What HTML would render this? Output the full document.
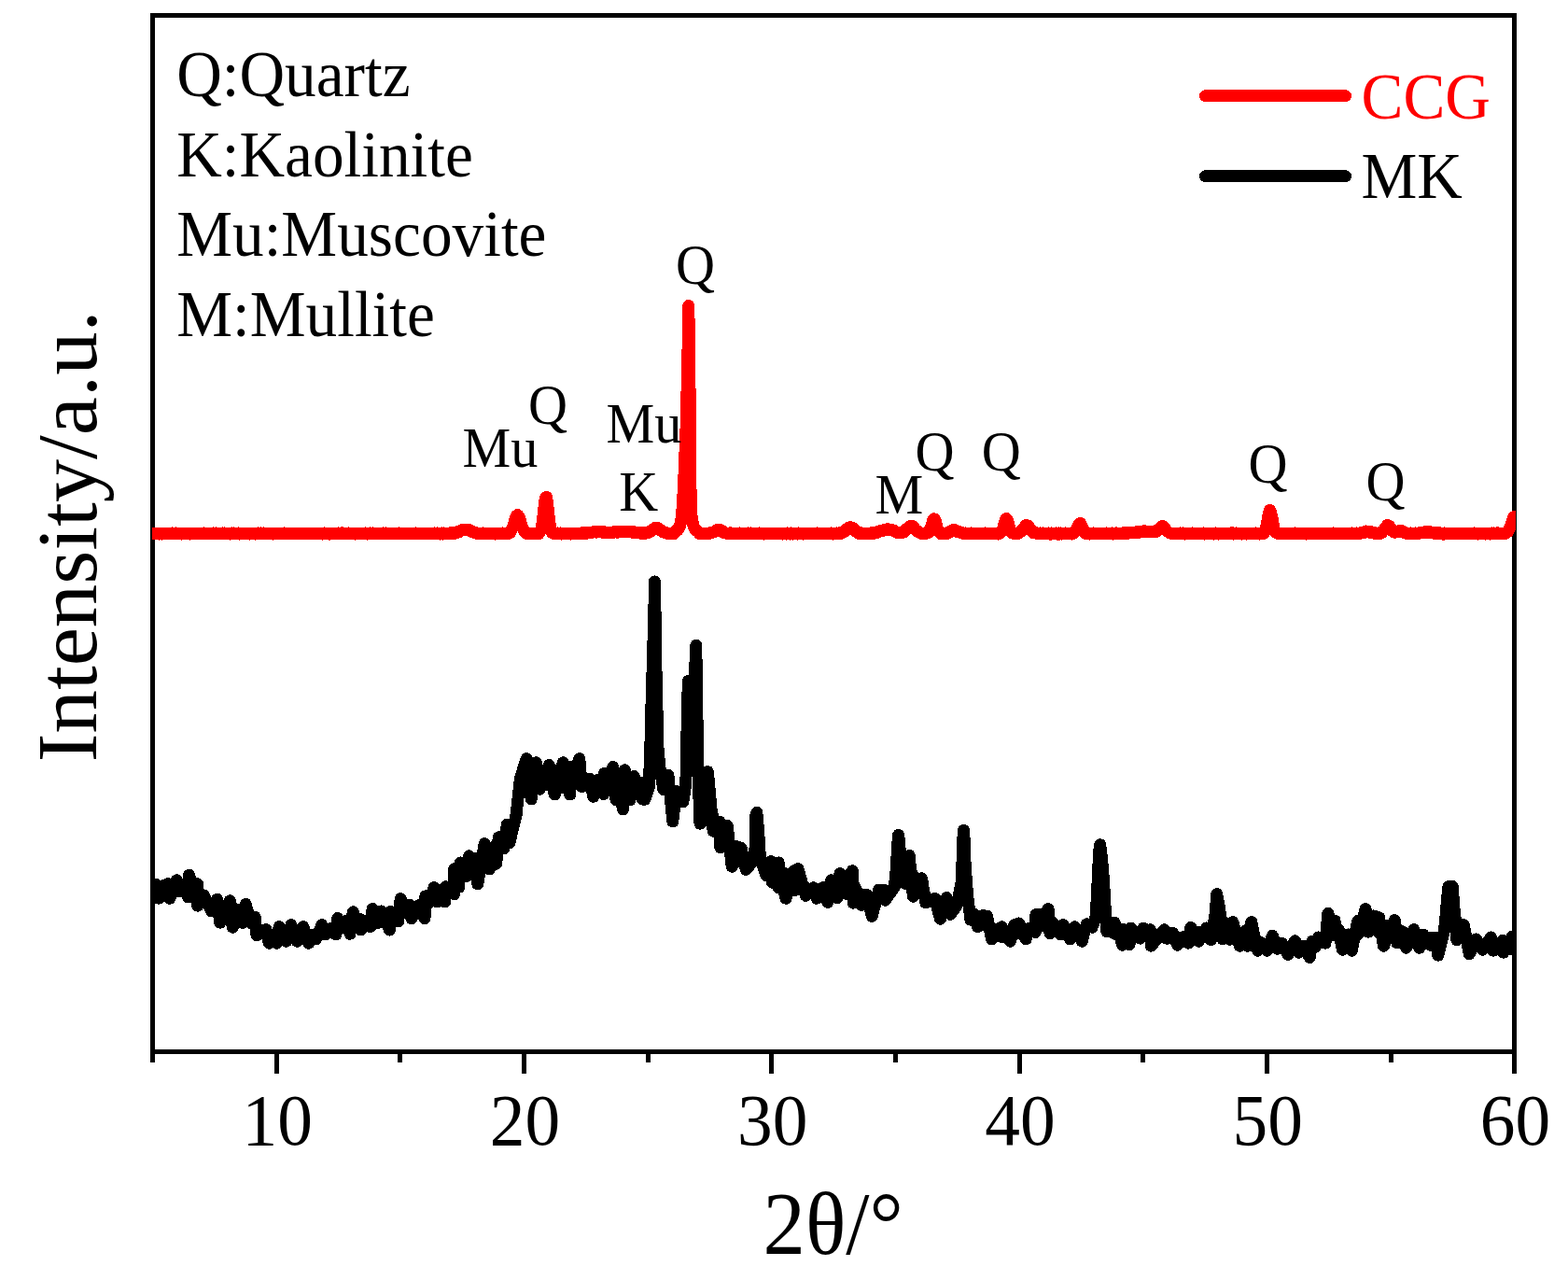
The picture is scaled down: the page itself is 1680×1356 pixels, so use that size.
<!DOCTYPE html>
<html lang="en">
<head>
<meta charset="utf-8">
<title>XRD patterns of CCG and MK</title>
<style>
html,body{margin:0;padding:0;background:#fff;}
body{width:1680px;height:1356px;overflow:hidden;}
svg{display:block;}
text{font-family:"Liberation Serif","Times New Roman",serif;fill:#000;}
.leg{font-size:67.3px;}
.pk{font-size:58.2px;}
.tk{font-size:75.4px;text-anchor:middle;}
.ax{font-size:90.7px;text-anchor:middle;}
.ln{fill:none;stroke-linejoin:round;stroke-linecap:round;}
</style>
</head>
<body>
<svg width="1680" height="1356" viewBox="0 0 1680 1356">
<rect x="0" y="0" width="1680" height="1356" fill="#fff"/>
<g id="frame" fill="none" stroke="#000" stroke-width="5" stroke-linecap="butt">
<rect x="163.5" y="16.5" width="1459.0" height="1110.0"/>
<line x1="163.5" y1="1126.5" x2="163.5" y2="1138.0"/>
<line x1="296.5" y1="1126.5" x2="296.5" y2="1150.0"/>
<line x1="428.5" y1="1126.5" x2="428.5" y2="1138.0"/>
<line x1="561.5" y1="1126.5" x2="561.5" y2="1150.0"/>
<line x1="694.5" y1="1126.5" x2="694.5" y2="1138.0"/>
<line x1="826.5" y1="1126.5" x2="826.5" y2="1150.0"/>
<line x1="959.5" y1="1126.5" x2="959.5" y2="1138.0"/>
<line x1="1092.5" y1="1126.5" x2="1092.5" y2="1150.0"/>
<line x1="1224.5" y1="1126.5" x2="1224.5" y2="1138.0"/>
<line x1="1357.5" y1="1126.5" x2="1357.5" y2="1150.0"/>
<line x1="1490.5" y1="1126.5" x2="1490.5" y2="1138.0"/>
<line x1="1622.5" y1="1126.5" x2="1622.5" y2="1150.0"/>
</g>
<defs><clipPath id="plotclip"><rect x="163" y="14" width="1461" height="1115"/></clipPath></defs>
<g id="curves" clip-path="url(#plotclip)" shape-rendering="crispEdges">
<polygon fill="#000" stroke="#000" stroke-width="1" stroke-linejoin="round" points="163.5,947.3 164.5,948.4 165.5,948.8 166.5,948.8 167.5,949.0 168.5,949.2 169.5,949.4 170.5,949.7 171.5,949.9 172.5,950.1 173.5,950.3 174.5,950.4 175.5,950.0 176.5,949.6 177.5,949.2 178.5,948.9 179.5,948.5 180.5,948.1 181.5,947.6 182.5,947.2 183.5,946.8 184.5,946.3 185.5,945.9 186.5,945.5 187.5,945.0 188.5,944.6 189.5,944.2 190.5,943.8 191.5,943.3 192.5,942.9 193.5,942.5 194.5,942.1 195.5,941.7 196.5,941.3 197.5,940.9 198.5,940.5 199.5,940.0 200.5,939.6 201.5,939.2 202.5,938.8 203.5,939.8 204.5,940.9 205.5,941.9 206.5,942.9 207.5,944.0 208.5,945.0 209.5,946.0 210.5,947.1 211.5,948.1 212.5,949.8 213.5,951.6 214.5,953.5 215.5,955.3 216.5,957.2 217.5,959.0 218.5,960.6 219.5,960.9 220.5,961.2 221.5,961.4 222.5,961.7 223.5,962.0 224.5,962.3 225.5,962.6 226.5,962.9 227.5,963.2 228.5,963.5 229.5,963.8 230.5,964.1 231.5,964.4 232.5,964.7 233.5,964.8 234.5,964.9 235.5,965.0 236.5,965.2 237.5,965.3 238.5,965.4 239.5,965.5 240.5,965.6 241.5,965.7 242.5,965.9 243.5,966.0 244.5,966.1 245.5,966.2 246.5,966.3 247.5,966.6 248.5,966.8 249.5,967.0 250.5,967.2 251.5,967.4 252.5,967.6 253.5,967.9 254.5,968.1 255.5,968.3 256.5,968.5 257.5,968.7 258.5,969.0 259.5,969.2 260.5,969.4 261.5,969.6 262.5,969.8 263.5,970.3 264.5,971.7 265.5,973.0 266.5,974.4 267.5,975.8 268.5,977.2 269.5,978.6 270.5,979.9 271.5,981.3 272.5,982.7 273.5,984.0 274.5,985.2 275.5,986.3 276.5,987.5 277.5,988.6 278.5,989.8 279.5,990.9 280.5,992.0 281.5,993.2 282.5,994.3 283.5,995.5 284.5,996.6 285.5,997.1 286.5,996.9 287.5,996.7 288.5,996.5 289.5,996.2 290.5,996.0 291.5,995.8 292.5,995.6 293.5,995.4 294.5,995.2 295.5,995.0 296.5,994.8 297.5,994.6 298.5,994.3 299.5,994.2 300.5,994.0 301.5,993.8 302.5,993.7 303.5,993.5 304.5,993.4 305.5,993.2 306.5,993.1 307.5,992.9 308.5,992.7 309.5,992.6 310.5,992.4 311.5,992.3 312.5,992.3 313.5,992.4 314.5,992.6 315.5,992.7 316.5,992.9 317.5,993.0 318.5,993.2 319.5,993.4 320.5,993.5 321.5,993.7 322.5,993.8 323.5,994.0 324.5,994.1 325.5,994.6 326.5,995.5 327.5,996.4 328.5,997.3 329.5,998.2 330.5,999.0 331.5,999.9 332.5,1000.8 333.5,1001.7 334.5,1002.6 335.5,1002.5 336.5,1001.4 337.5,1000.3 338.5,999.2 339.5,998.1 340.5,997.1 341.5,996.0 342.5,994.9 343.5,993.8 344.5,992.7 345.5,992.4 346.5,992.9 347.5,993.4 348.5,993.9 349.5,994.4 350.5,994.9 351.5,995.4 352.5,995.9 353.5,996.0 354.5,994.7 355.5,993.3 356.5,992.0 357.5,990.6 358.5,989.3 359.5,988.0 360.5,986.6 361.5,985.3 362.5,985.3 363.5,985.7 364.5,986.0 365.5,986.4 366.5,986.7 367.5,987.1 368.5,987.5 369.5,987.8 370.5,987.4 371.5,986.2 372.5,985.1 373.5,983.9 374.5,982.7 375.5,981.6 376.5,980.4 377.5,979.2 378.5,978.5 379.5,979.4 380.5,980.4 381.5,981.3 382.5,982.3 383.5,983.3 384.5,984.2 385.5,985.2 386.5,986.1 387.5,985.6 388.5,984.7 389.5,983.8 390.5,982.9 391.5,982.0 392.5,981.1 393.5,980.2 394.5,979.2 395.5,978.3 396.5,977.4 397.5,976.5 398.5,975.6 399.5,975.1 400.5,975.4 401.5,975.6 402.5,975.9 403.5,976.2 404.5,976.5 405.5,976.7 406.5,977.0 407.5,977.3 408.5,977.5 409.5,977.6 410.5,977.6 411.5,977.7 412.5,977.7 413.5,977.8 414.5,977.8 415.5,977.9 416.5,977.9 417.5,978.0 418.5,977.7 419.5,976.5 420.5,975.2 421.5,973.9 422.5,972.7 423.5,971.4 424.5,970.2 425.5,968.9 426.5,967.6 427.5,966.4 428.5,965.1 429.5,964.4 430.5,965.1 431.5,965.8 432.5,966.5 433.5,967.2 434.5,967.9 435.5,968.6 436.5,969.3 437.5,969.9 438.5,970.5 439.5,970.6 440.5,970.7 441.5,970.8 442.5,970.8 443.5,970.9 444.5,971.0 445.5,971.1 446.5,971.2 447.5,971.2 448.5,971.0 449.5,969.7 450.5,968.4 451.5,967.0 452.5,965.7 453.5,964.4 454.5,963.0 455.5,961.7 456.5,960.6 457.5,959.6 458.5,958.6 459.5,957.6 460.5,956.7 461.5,955.7 462.5,954.7 463.5,953.7 464.5,952.7 465.5,952.2 466.5,952.1 467.5,952.0 468.5,951.9 469.5,951.9 470.5,951.8 471.5,951.7 472.5,951.7 473.5,951.6 474.5,951.5 475.5,951.4 476.5,951.4 477.5,951.3 478.5,949.2 479.5,947.1 480.5,945.1 481.5,943.0 482.5,940.9 483.5,938.8 484.5,936.8 485.5,934.7 486.5,932.6 487.5,931.4 488.5,930.4 489.5,929.4 490.5,928.3 491.5,927.3 492.5,926.3 493.5,925.3 494.5,924.6 495.5,923.8 496.5,923.0 497.5,922.2 498.5,921.4 499.5,920.6 500.5,919.9 501.5,919.1 502.5,918.3 503.5,918.6 504.5,918.9 505.5,919.2 506.5,919.5 507.5,919.8 508.5,920.1 509.5,920.4 510.5,919.7 511.5,918.0 512.5,916.3 513.5,914.7 514.5,913.0 515.5,911.4 516.5,909.7 517.5,908.0 518.5,906.4 519.5,905.1 520.5,904.6 521.5,904.1 522.5,903.7 523.5,903.2 524.5,902.8 525.5,902.3 526.5,901.8 527.5,901.4 528.5,900.9 529.5,900.5 530.5,900.0 531.5,899.5 532.5,899.1 533.5,898.6 534.5,897.9 535.5,896.4 536.5,894.9 537.5,893.4 538.5,891.9 539.5,890.4 540.5,888.9 541.5,887.4 542.5,885.9 543.5,884.5 544.5,883.5 545.5,882.5 546.5,881.4 547.5,880.4 548.5,879.4 549.5,878.4 550.5,877.4 551.5,876.3 552.5,874.6 553.5,868.8 554.5,859.7 555.5,850.7 556.5,842.0 557.5,833.3 558.5,831.7 559.5,828.7 560.5,825.6 561.5,822.5 562.5,819.4 563.5,816.4 564.5,814.3 565.5,814.7 566.5,815.1 567.5,815.6 568.5,816.0 569.5,816.4 570.5,816.8 571.5,817.2 572.5,817.6 573.5,818.0 574.5,818.4 575.5,818.5 576.5,818.7 577.5,818.9 578.5,819.1 579.5,819.3 580.5,819.5 581.5,819.7 582.5,819.9 583.5,820.1 584.5,820.3 585.5,820.5 586.5,820.7 587.5,820.8 588.5,821.0 589.5,820.8 590.5,820.6 591.5,820.4 592.5,820.2 593.5,820.1 594.5,819.9 595.5,819.7 596.5,819.5 597.5,819.3 598.5,819.2 599.5,819.0 600.5,818.8 601.5,818.6 602.5,818.4 603.5,818.4 604.5,819.0 605.5,819.5 606.5,820.1 607.5,820.6 608.5,821.2 609.5,821.8 610.5,822.3 611.5,822.9 612.5,822.2 613.5,821.3 614.5,820.3 615.5,819.3 616.5,818.4 617.5,817.4 618.5,816.4 619.5,815.5 620.5,814.5 621.5,815.6 622.5,817.5 623.5,819.5 624.5,821.4 625.5,823.4 626.5,825.3 627.5,827.3 628.5,829.2 629.5,831.2 630.5,833.2 631.5,835.1 632.5,835.7 633.5,835.9 634.5,836.1 635.5,836.3 636.5,836.5 637.5,836.7 638.5,836.9 639.5,837.1 640.5,836.7 641.5,835.8 642.5,834.8 643.5,833.8 644.5,832.9 645.5,831.9 646.5,831.0 647.5,830.0 648.5,829.2 649.5,828.5 650.5,827.7 651.5,827.0 652.5,826.2 653.5,825.4 654.5,824.7 655.5,823.9 656.5,823.2 657.5,823.2 658.5,823.5 659.5,823.7 660.5,824.0 661.5,824.3 662.5,824.5 663.5,824.8 664.5,825.1 665.5,825.3 666.5,825.6 667.5,825.9 668.5,826.1 669.5,826.5 670.5,827.2 671.5,827.8 672.5,828.5 673.5,829.2 674.5,829.9 675.5,830.5 676.5,831.2 677.5,831.9 678.5,832.5 679.5,833.3 680.5,834.2 681.5,835.1 682.5,836.1 683.5,837.0 684.5,837.9 685.5,838.9 686.5,839.8 687.5,840.5 688.5,841.0 689.5,841.6 690.5,842.2 691.5,842.7 692.5,843.3 693.5,843.9 694.5,844.3 695.5,837.9 696.5,810.2 697.5,775.0 698.5,737.9 699.5,703.8 700.5,669.8 701.5,623.0 702.5,688.5 703.5,738.8 704.5,784.4 705.5,806.8 706.5,817.9 707.5,823.4 708.5,824.4 709.5,825.4 710.5,826.4 711.5,827.5 712.5,828.5 713.5,829.5 714.5,830.5 715.5,831.5 716.5,833.1 717.5,835.0 718.5,837.0 719.5,838.9 720.5,840.9 721.5,842.8 722.5,844.8 723.5,846.7 724.5,848.7 725.5,847.9 726.5,847.1 727.5,846.3 728.5,845.5 729.5,844.7 730.5,843.9 731.5,843.1 732.5,842.3 733.5,841.5 734.5,840.4 735.5,804.8 736.5,762.9 737.5,733.1 738.5,750.7 739.5,768.2 740.5,771.5 741.5,760.4 742.5,749.3 743.5,738.2 744.5,721.2 745.5,698.1 746.5,739.0 747.5,806.5 748.5,823.1 749.5,823.6 750.5,824.1 751.5,824.6 752.5,825.1 753.5,825.6 754.5,826.1 755.5,826.6 756.5,827.1 757.5,827.6 758.5,828.5 759.5,832.6 760.5,836.6 761.5,840.7 762.5,844.8 763.5,848.8 764.5,852.9 765.5,857.0 766.5,861.0 767.5,865.1 768.5,869.2 769.5,873.3 770.5,877.3 771.5,881.4 772.5,882.6 773.5,883.1 774.5,883.6 775.5,884.1 776.5,884.6 777.5,885.1 778.5,885.6 779.5,886.7 780.5,889.1 781.5,891.6 782.5,894.0 783.5,896.4 784.5,898.8 785.5,901.2 786.5,903.6 787.5,906.1 788.5,908.1 789.5,908.4 790.5,908.7 791.5,909.1 792.5,909.4 793.5,909.8 794.5,910.4 795.5,911.7 796.5,912.9 797.5,914.2 798.5,915.5 799.5,916.8 800.5,918.0 801.5,919.3 802.5,920.6 803.5,921.9 804.5,923.1 805.5,923.3 806.5,920.2 807.5,915.7 808.5,911.2 809.5,906.7 810.5,871.2 811.5,877.8 812.5,889.4 813.5,904.2 814.5,917.1 815.5,918.8 816.5,919.3 817.5,919.9 818.5,920.4 819.5,920.9 820.5,921.4 821.5,922.0 822.5,922.5 823.5,923.0 824.5,923.5 825.5,924.0 826.5,924.3 827.5,924.5 828.5,924.6 829.5,924.8 830.5,924.9 831.5,925.1 832.5,925.2 833.5,925.4 834.5,925.7 835.5,926.2 836.5,926.7 837.5,927.2 838.5,927.8 839.5,928.3 840.5,928.8 841.5,929.3 842.5,929.9 843.5,930.4 844.5,930.9 845.5,931.4 846.5,931.9 847.5,932.5 848.5,933.0 849.5,933.5 850.5,934.0 851.5,933.9 852.5,933.4 853.5,932.9 854.5,932.4 855.5,932.8 856.5,934.0 857.5,935.2 858.5,936.4 859.5,937.6 860.5,938.8 861.5,940.0 862.5,941.2 863.5,942.4 864.5,943.6 865.5,944.8 866.5,946.0 867.5,947.2 868.5,948.4 869.5,949.6 870.5,950.8 871.5,952.0 872.5,952.2 873.5,952.2 874.5,952.2 875.5,952.2 876.5,952.2 877.5,952.2 878.5,952.2 879.5,952.2 880.5,952.2 881.5,952.2 882.5,951.5 883.5,950.6 884.5,949.8 885.5,948.9 886.5,948.0 887.5,947.2 888.5,946.3 889.5,945.4 890.5,944.6 891.5,943.8 892.5,943.0 893.5,942.2 894.5,941.4 895.5,940.7 896.5,939.9 897.5,939.1 898.5,938.4 899.5,937.6 900.5,937.1 901.5,936.9 902.5,936.6 903.5,936.4 904.5,936.2 905.5,936.0 906.5,935.7 907.5,935.5 908.5,935.3 909.5,935.1 910.5,934.8 911.5,934.6 912.5,934.4 913.5,934.5 914.5,936.2 915.5,937.9 916.5,939.6 917.5,941.3 918.5,943.0 919.5,944.7 920.5,946.4 921.5,948.1 922.5,949.8 923.5,951.5 924.5,953.2 925.5,954.9 926.5,956.6 927.5,958.3 928.5,959.6 929.5,959.3 930.5,958.9 931.5,958.5 932.5,958.1 933.5,957.8 934.5,957.4 935.5,957.0 936.5,956.6 937.5,956.3 938.5,955.9 939.5,955.5 940.5,955.1 941.5,954.8 942.5,954.7 943.5,954.7 944.5,954.7 945.5,954.7 946.5,954.7 947.5,954.7 948.5,954.4 949.5,954.1 950.5,953.8 951.5,953.5 952.5,953.2 953.5,952.9 954.5,952.6 955.5,952.3 956.5,951.6 957.5,950.7 958.5,948.0 959.5,938.0 960.5,926.4 961.5,908.3 962.5,894.5 963.5,900.0 964.5,913.8 965.5,915.2 966.5,915.5 967.5,915.8 968.5,916.2 969.5,916.5 970.5,916.8 971.5,917.1 972.5,917.5 973.5,917.8 974.5,918.5 975.5,920.4 976.5,922.2 977.5,924.0 978.5,925.8 979.5,927.6 980.5,929.5 981.5,931.3 982.5,933.1 983.5,934.9 984.5,936.7 985.5,938.6 986.5,940.4 987.5,942.2 988.5,943.7 989.5,945.2 990.5,946.8 991.5,948.3 992.5,949.8 993.5,951.3 994.5,952.8 995.5,954.4 996.5,955.9 997.5,957.4 998.5,958.9 999.5,960.5 1000.5,962.0 1001.5,963.5 1002.5,963.7 1003.5,963.7 1004.5,963.6 1005.5,963.6 1006.5,963.5 1007.5,963.4 1008.5,963.4 1009.5,963.3 1010.5,963.2 1011.5,963.2 1012.5,963.1 1013.5,963.0 1014.5,963.2 1015.5,964.0 1016.5,964.8 1017.5,965.6 1018.5,966.4 1019.5,967.2 1020.5,968.0 1021.5,968.7 1022.5,969.5 1023.5,970.3 1024.5,970.2 1025.5,967.6 1026.5,962.8 1027.5,958.0 1028.5,953.2 1029.5,948.4 1030.5,936.9 1031.5,910.0 1032.5,889.5 1033.5,910.0 1034.5,930.7 1035.5,945.4 1036.5,956.6 1037.5,965.8 1038.5,967.7 1039.5,968.7 1040.5,969.6 1041.5,970.6 1042.5,971.6 1043.5,972.6 1044.5,973.6 1045.5,974.5 1046.5,975.5 1047.5,976.5 1048.5,977.5 1049.5,978.5 1050.5,979.5 1051.5,980.4 1052.5,981.4 1053.5,982.2 1054.5,982.3 1055.5,982.5 1056.5,982.6 1057.5,982.7 1058.5,983.4 1059.5,984.2 1060.5,984.9 1061.5,985.6 1062.5,986.4 1063.5,987.1 1064.5,987.8 1065.5,988.6 1066.5,989.3 1067.5,990.0 1068.5,990.8 1069.5,991.5 1070.5,992.2 1071.5,993.0 1072.5,993.7 1073.5,994.3 1074.5,994.1 1075.5,994.0 1076.5,993.8 1077.5,993.6 1078.5,993.5 1079.5,993.3 1080.5,993.2 1081.5,993.0 1082.5,992.9 1083.5,992.7 1084.5,992.5 1085.5,992.4 1086.5,992.2 1087.5,991.9 1088.5,991.6 1089.5,991.2 1090.5,990.9 1091.5,990.6 1092.5,991.0 1093.5,991.5 1094.5,992.1 1095.5,992.7 1096.5,993.3 1097.5,993.9 1098.5,994.4 1099.5,995.0 1100.5,995.6 1101.5,996.2 1102.5,994.8 1103.5,993.0 1104.5,991.1 1105.5,989.3 1106.5,987.5 1107.5,985.6 1108.5,983.8 1109.5,981.9 1110.5,981.0 1111.5,980.9 1112.5,980.8 1113.5,980.6 1114.5,980.5 1115.5,980.2 1116.5,979.5 1117.5,978.8 1118.5,978.1 1119.5,977.4 1120.5,976.7 1121.5,976.0 1122.5,975.3 1123.5,975.5 1124.5,976.6 1125.5,977.7 1126.5,978.7 1127.5,979.8 1128.5,980.8 1129.5,981.9 1130.5,983.0 1131.5,984.0 1132.5,985.1 1133.5,986.1 1134.5,987.2 1135.5,988.3 1136.5,989.3 1137.5,990.4 1138.5,991.5 1139.5,992.3 1140.5,992.4 1141.5,992.6 1142.5,992.8 1143.5,992.9 1144.5,993.1 1145.5,993.3 1146.5,993.4 1147.5,993.6 1148.5,993.8 1149.5,993.9 1150.5,994.1 1151.5,994.3 1152.5,994.1 1153.5,993.9 1154.5,993.6 1155.5,993.4 1156.5,993.1 1157.5,992.9 1158.5,992.7 1159.5,992.4 1160.5,992.2 1161.5,991.9 1162.5,991.7 1163.5,991.5 1164.5,991.1 1165.5,990.2 1166.5,989.4 1167.5,988.6 1168.5,987.8 1169.5,987.0 1170.5,986.2 1171.5,985.4 1172.5,984.6 1173.5,982.9 1174.5,975.9 1175.5,956.7 1176.5,936.0 1177.5,915.7 1178.5,906.2 1179.5,911.0 1180.5,920.0 1181.5,930.7 1182.5,944.3 1183.5,960.8 1184.5,975.2 1185.5,976.7 1186.5,978.2 1187.5,979.7 1188.5,981.2 1189.5,982.7 1190.5,984.2 1191.5,985.7 1192.5,987.2 1193.5,988.7 1194.5,989.9 1195.5,990.7 1196.5,991.4 1197.5,992.2 1198.5,992.9 1199.5,993.7 1200.5,994.4 1201.5,995.2 1202.5,995.9 1203.5,996.7 1204.5,997.1 1205.5,996.9 1206.5,996.7 1207.5,996.5 1208.5,996.2 1209.5,996.0 1210.5,995.8 1211.5,995.5 1212.5,995.5 1213.5,995.5 1214.5,995.5 1215.5,995.5 1216.5,995.5 1217.5,995.5 1218.5,995.5 1219.5,995.5 1220.5,995.5 1221.5,995.5 1222.5,995.5 1223.5,995.5 1224.5,995.5 1225.5,995.6 1226.5,995.8 1227.5,996.1 1228.5,996.3 1229.5,996.5 1230.5,996.7 1231.5,997.0 1232.5,997.2 1233.5,997.2 1234.5,997.2 1235.5,997.2 1236.5,997.2 1237.5,997.2 1238.5,997.2 1239.5,997.2 1240.5,997.2 1241.5,997.2 1242.5,997.2 1243.5,997.2 1244.5,997.2 1245.5,997.2 1246.5,997.2 1247.5,997.2 1248.5,997.6 1249.5,998.0 1250.5,998.4 1251.5,998.9 1252.5,999.3 1253.5,999.7 1254.5,1000.1 1255.5,1000.5 1256.5,1000.9 1257.5,1000.7 1258.5,1000.4 1259.5,1000.1 1260.5,999.8 1261.5,999.5 1262.5,999.2 1263.5,998.9 1264.5,998.5 1265.5,998.2 1266.5,997.9 1267.5,997.6 1268.5,997.3 1269.5,997.0 1270.5,996.7 1271.5,996.4 1272.5,996.0 1273.5,995.7 1274.5,995.4 1275.5,995.1 1276.5,995.4 1277.5,995.9 1278.5,996.4 1279.5,996.9 1280.5,997.4 1281.5,997.9 1282.5,998.4 1283.5,998.9 1284.5,999.4 1285.5,999.4 1286.5,998.9 1287.5,998.3 1288.5,997.7 1289.5,997.2 1290.5,996.6 1291.5,996.1 1292.5,995.5 1293.5,994.0 1294.5,992.6 1295.5,991.1 1296.5,989.6 1297.5,988.1 1298.5,986.7 1299.5,985.2 1300.5,983.7 1301.5,981.8 1302.5,974.9 1303.5,961.8 1304.5,963.4 1305.5,968.6 1306.5,972.9 1307.5,975.6 1308.5,976.6 1309.5,977.7 1310.5,978.7 1311.5,979.7 1312.5,980.7 1313.5,981.7 1314.5,982.8 1315.5,983.8 1316.5,984.8 1317.5,985.8 1318.5,986.9 1319.5,987.9 1320.5,988.9 1321.5,989.7 1322.5,990.3 1323.5,990.9 1324.5,991.6 1325.5,992.2 1326.5,992.9 1327.5,993.5 1328.5,994.2 1329.5,994.8 1330.5,995.5 1331.5,996.1 1332.5,996.8 1333.5,997.4 1334.5,996.9 1335.5,997.0 1336.5,995.5 1337.5,994.1 1338.5,992.6 1339.5,991.1 1340.5,989.6 1341.5,992.6 1342.5,997.6 1343.5,1000.6 1344.5,1002.9 1345.5,1004.1 1346.5,1005.2 1347.5,1006.4 1348.5,1007.6 1349.5,1008.7 1350.5,1009.9 1351.5,1011.1 1352.5,1010.8 1353.5,1010.1 1354.5,1009.5 1355.5,1008.8 1356.5,1008.2 1357.5,1007.5 1358.5,1006.9 1359.5,1006.3 1360.5,1005.6 1361.5,1005.0 1362.5,1004.3 1363.5,1004.0 1364.5,1004.7 1365.5,1005.5 1366.5,1006.3 1367.5,1007.1 1368.5,1007.9 1369.5,1008.7 1370.5,1009.5 1371.5,1010.3 1372.5,1011.1 1373.5,1011.7 1374.5,1011.5 1375.5,1011.3 1376.5,1011.1 1377.5,1011.0 1378.5,1010.8 1379.5,1010.6 1380.5,1010.4 1381.5,1010.3 1382.5,1010.1 1383.5,1009.9 1384.5,1009.7 1385.5,1009.6 1386.5,1009.4 1387.5,1009.2 1388.5,1009.8 1389.5,1010.4 1390.5,1011.0 1391.5,1011.6 1392.5,1012.2 1393.5,1012.8 1394.5,1013.4 1395.5,1014.0 1396.5,1014.6 1397.5,1014.3 1398.5,1013.7 1399.5,1013.2 1400.5,1012.6 1401.5,1012.1 1402.5,1011.5 1403.5,1011.0 1404.5,1010.4 1405.5,1009.9 1406.5,1009.3 1407.5,1008.6 1408.5,1008.0 1409.5,1007.4 1410.5,1006.8 1411.5,1006.1 1412.5,1005.5 1413.5,1003.0 1414.5,1000.5 1415.5,998.1 1416.5,995.6 1417.5,993.1 1418.5,990.6 1419.5,988.2 1420.5,985.7 1421.5,983.2 1422.5,980.7 1423.5,980.7 1424.5,981.8 1425.5,982.8 1426.5,983.9 1427.5,984.9 1428.5,985.9 1429.5,987.0 1430.5,988.0 1431.5,989.1 1432.5,990.1 1433.5,991.2 1434.5,992.3 1435.5,993.3 1436.5,994.4 1437.5,995.4 1438.5,996.5 1439.5,997.5 1440.5,998.6 1441.5,999.6 1442.5,1000.7 1443.5,1001.8 1444.5,1002.1 1445.5,1000.7 1446.5,999.3 1447.5,997.9 1448.5,996.6 1449.5,995.2 1450.5,993.8 1451.5,992.4 1452.5,991.0 1453.5,989.7 1454.5,988.3 1455.5,986.7 1456.5,985.2 1457.5,983.6 1458.5,982.0 1459.5,980.5 1460.5,978.9 1461.5,977.3 1462.5,975.8 1463.5,975.4 1464.5,976.3 1465.5,977.2 1466.5,978.0 1467.5,978.9 1468.5,979.7 1469.5,980.6 1470.5,981.5 1471.5,982.3 1472.5,982.7 1473.5,983.0 1474.5,983.3 1475.5,983.6 1476.5,983.9 1477.5,984.2 1478.5,984.4 1479.5,984.6 1480.5,984.7 1481.5,984.9 1482.5,985.1 1483.5,985.3 1484.5,985.5 1485.5,985.6 1486.5,985.8 1487.5,986.0 1488.5,986.2 1489.5,986.4 1490.5,986.5 1491.5,986.7 1492.5,986.9 1493.5,987.1 1494.5,987.3 1495.5,987.8 1496.5,988.3 1497.5,988.8 1498.5,989.3 1499.5,989.7 1500.5,990.2 1501.5,990.7 1502.5,991.2 1503.5,991.7 1504.5,992.2 1505.5,992.6 1506.5,993.1 1507.5,993.6 1508.5,994.1 1509.5,994.6 1510.5,995.0 1511.5,995.5 1512.5,996.0 1513.5,996.5 1514.5,997.0 1515.5,997.5 1516.5,998.0 1517.5,998.5 1518.5,999.1 1519.5,999.6 1520.5,1000.1 1521.5,1000.6 1522.5,1001.2 1523.5,1001.7 1524.5,1002.2 1525.5,1002.7 1526.5,1003.1 1527.5,1003.6 1528.5,1004.0 1529.5,1004.4 1530.5,1004.8 1531.5,1005.2 1532.5,1005.7 1533.5,1006.0 1534.5,1005.9 1535.5,1005.8 1536.5,1005.7 1537.5,1005.6 1538.5,1005.4 1539.5,1004.9 1540.5,1004.5 1541.5,1004.0 1542.5,1003.5 1543.5,1003.0 1544.5,1002.5 1545.5,1002.1 1546.5,1000.4 1547.5,995.0 1548.5,987.6 1549.5,975.4 1550.5,963.3 1551.5,954.1 1552.5,949.5 1553.5,949.5 1554.5,949.5 1555.5,949.5 1556.5,952.5 1557.5,967.3 1558.5,977.9 1559.5,986.7 1560.5,988.7 1561.5,989.1 1562.5,989.6 1563.5,990.0 1564.5,990.5 1565.5,990.9 1566.5,991.4 1567.5,991.8 1568.5,992.4 1569.5,993.6 1570.5,994.7 1571.5,995.9 1572.5,997.0 1573.5,998.1 1574.5,999.3 1575.5,1000.4 1576.5,1001.6 1577.5,1002.7 1578.5,1003.8 1579.5,1005.0 1580.5,1006.1 1581.5,1007.3 1582.5,1007.4 1583.5,1007.3 1584.5,1007.1 1585.5,1007.0 1586.5,1006.9 1587.5,1006.8 1588.5,1006.6 1589.5,1006.5 1590.5,1006.4 1591.5,1006.3 1592.5,1006.1 1593.5,1006.0 1594.5,1005.9 1595.5,1005.8 1596.5,1005.6 1597.5,1005.5 1598.5,1005.8 1599.5,1006.0 1600.5,1006.3 1601.5,1006.6 1602.5,1006.8 1603.5,1007.1 1604.5,1007.3 1605.5,1007.6 1606.5,1007.9 1607.5,1008.1 1608.5,1008.4 1609.5,1008.7 1610.5,1008.6 1611.5,1008.2 1612.5,1007.8 1613.5,1007.4 1614.5,1007.0 1615.5,1006.5 1616.5,1006.1 1617.5,1005.7 1618.5,1005.3 1619.5,1004.9 1620.5,1004.7 1621.5,1004.7 1622.5,1003.2 1622.5,1003.2 1621.5,1004.9 1620.5,1008.2 1619.5,1011.4 1618.5,1014.7 1617.5,1015.7 1616.5,1016.1 1615.5,1016.6 1614.5,1017.0 1613.5,1017.5 1612.5,1017.9 1611.5,1018.4 1610.5,1018.6 1609.5,1018.5 1608.5,1018.3 1607.5,1018.1 1606.5,1017.9 1605.5,1017.7 1604.5,1017.5 1603.5,1017.3 1602.5,1017.2 1601.5,1017.0 1600.5,1016.8 1599.5,1016.7 1598.5,1016.6 1597.5,1016.5 1596.5,1016.4 1595.5,1016.3 1594.5,1016.2 1593.5,1016.1 1592.5,1016.1 1591.5,1016.0 1590.5,1015.9 1589.5,1015.8 1588.5,1015.7 1587.5,1016.0 1586.5,1016.3 1585.5,1016.6 1584.5,1016.9 1583.5,1017.3 1582.5,1017.6 1581.5,1017.9 1580.5,1018.2 1579.5,1018.6 1578.5,1018.9 1577.5,1019.2 1576.5,1019.5 1575.5,1019.9 1574.5,1020.2 1573.5,1019.5 1572.5,1018.4 1571.5,1017.3 1570.5,1016.2 1569.5,1015.0 1568.5,1013.9 1567.5,1012.8 1566.5,1011.7 1565.5,1010.6 1564.5,1009.4 1563.5,1008.3 1562.5,1007.2 1561.5,1006.1 1560.5,1000.7 1559.5,986.7 1558.5,977.9 1557.5,967.3 1556.5,952.5 1555.5,949.5 1554.5,949.5 1553.5,949.5 1552.5,949.5 1551.5,954.1 1550.5,963.3 1549.5,975.4 1548.5,987.6 1547.5,995.0 1546.5,1000.4 1545.5,1003.2 1544.5,1007.2 1543.5,1011.1 1542.5,1015.0 1541.5,1018.9 1540.5,1021.6 1539.5,1021.2 1538.5,1020.8 1537.5,1020.4 1536.5,1020.0 1535.5,1019.6 1534.5,1019.2 1533.5,1018.8 1532.5,1018.4 1531.5,1018.0 1530.5,1017.6 1529.5,1017.2 1528.5,1016.8 1527.5,1016.4 1526.5,1016.0 1525.5,1015.6 1524.5,1015.2 1523.5,1014.8 1522.5,1014.4 1521.5,1014.0 1520.5,1013.7 1519.5,1013.7 1518.5,1013.7 1517.5,1013.7 1516.5,1013.7 1515.5,1013.7 1514.5,1013.7 1513.5,1013.7 1512.5,1013.7 1511.5,1013.7 1510.5,1013.7 1509.5,1013.7 1508.5,1013.7 1507.5,1013.7 1506.5,1013.6 1505.5,1013.1 1504.5,1012.5 1503.5,1012.0 1502.5,1011.4 1501.5,1010.9 1500.5,1010.4 1499.5,1009.8 1498.5,1009.3 1497.5,1008.7 1496.5,1008.3 1495.5,1008.6 1494.5,1008.8 1493.5,1009.1 1492.5,1009.3 1491.5,1009.5 1490.5,1009.8 1489.5,1010.0 1488.5,1010.3 1487.5,1010.5 1486.5,1010.7 1485.5,1011.0 1484.5,1011.2 1483.5,1011.5 1482.5,1011.7 1481.5,1010.8 1480.5,1009.9 1479.5,1009.0 1478.5,1008.1 1477.5,1007.2 1476.5,1006.3 1475.5,1005.4 1474.5,1004.5 1473.5,1003.6 1472.5,1002.7 1471.5,1001.8 1470.5,1000.9 1469.5,1000.0 1468.5,999.1 1467.5,998.2 1466.5,997.3 1465.5,997.0 1464.5,998.2 1463.5,999.3 1462.5,1000.5 1461.5,1001.6 1460.5,1002.8 1459.5,1003.9 1458.5,1005.0 1457.5,1006.2 1456.5,1007.3 1455.5,1008.5 1454.5,1009.6 1453.5,1010.8 1452.5,1011.9 1451.5,1013.0 1450.5,1014.2 1449.5,1015.3 1448.5,1016.5 1447.5,1016.6 1446.5,1016.5 1445.5,1016.4 1444.5,1016.3 1443.5,1016.2 1442.5,1016.1 1441.5,1016.0 1440.5,1015.9 1439.5,1015.8 1438.5,1015.7 1437.5,1014.2 1436.5,1012.4 1435.5,1010.5 1434.5,1008.6 1433.5,1006.8 1432.5,1004.9 1431.5,1003.1 1430.5,1001.2 1429.5,1000.7 1428.5,1001.6 1427.5,1002.4 1426.5,1003.2 1425.5,1004.1 1424.5,1004.9 1423.5,1005.8 1422.5,1006.6 1421.5,1007.4 1420.5,1008.3 1419.5,1009.2 1418.5,1010.1 1417.5,1011.0 1416.5,1011.9 1415.5,1012.8 1414.5,1013.7 1413.5,1014.7 1412.5,1015.6 1411.5,1016.5 1410.5,1017.4 1409.5,1018.3 1408.5,1019.2 1407.5,1020.2 1406.5,1021.1 1405.5,1022.0 1404.5,1022.9 1403.5,1023.8 1402.5,1023.6 1401.5,1023.2 1400.5,1022.7 1399.5,1022.3 1398.5,1021.8 1397.5,1021.4 1396.5,1020.9 1395.5,1020.4 1394.5,1020.0 1393.5,1019.5 1392.5,1019.1 1391.5,1018.7 1390.5,1018.9 1389.5,1019.1 1388.5,1019.2 1387.5,1019.4 1386.5,1019.6 1385.5,1019.8 1384.5,1019.9 1383.5,1020.1 1382.5,1020.3 1381.5,1020.4 1380.5,1020.6 1379.5,1020.6 1378.5,1020.4 1377.5,1020.3 1376.5,1020.1 1375.5,1019.9 1374.5,1019.7 1373.5,1019.5 1372.5,1019.4 1371.5,1019.2 1370.5,1019.0 1369.5,1018.8 1368.5,1018.7 1367.5,1018.5 1366.5,1018.3 1365.5,1018.1 1364.5,1017.9 1363.5,1017.8 1362.5,1017.6 1361.5,1017.4 1360.5,1017.2 1359.5,1017.1 1358.5,1016.9 1357.5,1016.7 1356.5,1016.7 1355.5,1016.7 1354.5,1016.7 1353.5,1016.7 1352.5,1016.7 1351.5,1016.7 1350.5,1016.7 1349.5,1016.7 1348.5,1016.7 1347.5,1016.7 1346.5,1012.4 1345.5,1008.0 1344.5,1003.7 1343.5,1000.6 1342.5,1000.1 1341.5,1002.1 1340.5,1004.1 1339.5,1006.1 1338.5,1008.1 1337.5,1010.1 1336.5,1010.0 1335.5,1001.8 1334.5,996.9 1333.5,998.3 1332.5,1000.9 1331.5,1003.5 1330.5,1006.0 1329.5,1008.6 1328.5,1011.2 1327.5,1011.2 1326.5,1010.6 1325.5,1009.9 1324.5,1009.3 1323.5,1008.6 1322.5,1008.0 1321.5,1007.4 1320.5,1006.7 1319.5,1006.1 1318.5,1005.4 1317.5,1004.8 1316.5,1004.8 1315.5,1004.7 1314.5,1004.7 1313.5,1004.6 1312.5,1004.6 1311.5,1004.6 1310.5,1004.5 1309.5,999.5 1308.5,989.6 1307.5,979.7 1306.5,972.9 1305.5,973.5 1304.5,974.9 1303.5,976.4 1302.5,977.8 1301.5,981.8 1300.5,987.3 1299.5,993.2 1298.5,999.1 1297.5,1005.0 1296.5,1005.1 1295.5,1005.3 1294.5,1005.4 1293.5,1005.5 1292.5,1005.6 1291.5,1005.8 1290.5,1005.9 1289.5,1006.0 1288.5,1006.2 1287.5,1006.3 1286.5,1006.4 1285.5,1006.5 1284.5,1006.7 1283.5,1006.8 1282.5,1007.0 1281.5,1007.2 1280.5,1007.4 1279.5,1007.6 1278.5,1007.7 1277.5,1007.9 1276.5,1008.1 1275.5,1008.3 1274.5,1008.5 1273.5,1008.7 1272.5,1008.8 1271.5,1009.0 1270.5,1009.2 1269.5,1009.4 1268.5,1009.5 1267.5,1009.7 1266.5,1009.9 1265.5,1010.0 1264.5,1010.2 1263.5,1010.4 1262.5,1010.6 1261.5,1010.6 1260.5,1010.0 1259.5,1009.4 1258.5,1008.8 1257.5,1008.2 1256.5,1007.6 1255.5,1007.0 1254.5,1006.4 1253.5,1005.8 1252.5,1005.2 1251.5,1004.6 1250.5,1004.0 1249.5,1003.9 1248.5,1004.4 1247.5,1004.9 1246.5,1005.4 1245.5,1005.9 1244.5,1006.3 1243.5,1006.8 1242.5,1007.3 1241.5,1007.8 1240.5,1008.3 1239.5,1008.7 1238.5,1009.2 1237.5,1009.7 1236.5,1010.2 1235.5,1010.6 1234.5,1011.1 1233.5,1011.6 1232.5,1011.1 1231.5,1010.5 1230.5,1009.8 1229.5,1009.1 1228.5,1008.4 1227.5,1007.7 1226.5,1007.0 1225.5,1006.3 1224.5,1005.6 1223.5,1004.9 1222.5,1004.3 1221.5,1003.8 1220.5,1004.4 1219.5,1004.9 1218.5,1005.5 1217.5,1006.1 1216.5,1006.6 1215.5,1007.2 1214.5,1007.8 1213.5,1008.3 1212.5,1008.9 1211.5,1009.5 1210.5,1010.0 1209.5,1010.3 1208.5,1010.4 1207.5,1010.4 1206.5,1010.5 1205.5,1010.5 1204.5,1010.6 1203.5,1010.6 1202.5,1010.7 1201.5,1009.3 1200.5,1007.8 1199.5,1006.4 1198.5,1004.9 1197.5,1003.5 1196.5,1002.0 1195.5,1000.6 1194.5,999.1 1193.5,998.5 1192.5,998.2 1191.5,997.9 1190.5,997.6 1189.5,997.3 1188.5,997.0 1187.5,996.7 1186.5,996.4 1185.5,991.6 1184.5,976.4 1183.5,960.8 1182.5,944.3 1181.5,930.7 1180.5,920.0 1179.5,911.0 1178.5,906.2 1177.5,915.7 1176.5,936.0 1175.5,956.7 1174.5,975.9 1173.5,982.9 1172.5,984.9 1171.5,987.6 1170.5,990.3 1169.5,992.4 1168.5,993.8 1167.5,995.2 1166.5,996.6 1165.5,998.0 1164.5,999.3 1163.5,1000.7 1162.5,1002.1 1161.5,1003.5 1160.5,1004.9 1159.5,1006.3 1158.5,1006.6 1157.5,1006.4 1156.5,1006.2 1155.5,1006.0 1154.5,1005.9 1153.5,1005.7 1152.5,1005.5 1151.5,1005.3 1150.5,1005.2 1149.5,1005.0 1148.5,1004.8 1147.5,1004.6 1146.5,1004.4 1145.5,1003.9 1144.5,1003.4 1143.5,1002.9 1142.5,1002.4 1141.5,1001.9 1140.5,1001.4 1139.5,1000.9 1138.5,1000.4 1137.5,999.9 1136.5,999.5 1135.5,999.4 1134.5,999.3 1133.5,999.2 1132.5,999.1 1131.5,999.0 1130.5,998.9 1129.5,998.8 1128.5,998.7 1127.5,998.6 1126.5,998.5 1125.5,998.4 1124.5,998.3 1123.5,998.2 1122.5,998.1 1121.5,998.0 1120.5,997.9 1119.5,997.8 1118.5,997.8 1117.5,997.7 1116.5,997.6 1115.5,997.5 1114.5,997.4 1113.5,997.4 1112.5,997.3 1111.5,997.2 1110.5,997.1 1109.5,997.0 1108.5,997.5 1107.5,998.3 1106.5,999.0 1105.5,999.8 1104.5,1000.5 1103.5,1001.3 1102.5,1002.0 1101.5,1002.8 1100.5,1003.5 1099.5,1004.3 1098.5,1004.6 1097.5,1004.7 1096.5,1004.9 1095.5,1005.0 1094.5,1005.1 1093.5,1005.3 1092.5,1005.4 1091.5,1005.5 1090.5,1005.6 1089.5,1005.8 1088.5,1005.9 1087.5,1006.0 1086.5,1006.2 1085.5,1006.3 1084.5,1006.4 1083.5,1006.6 1082.5,1006.7 1081.5,1006.2 1080.5,1005.7 1079.5,1005.2 1078.5,1004.7 1077.5,1004.1 1076.5,1003.6 1075.5,1003.1 1074.5,1002.6 1073.5,1002.1 1072.5,1002.2 1071.5,1002.4 1070.5,1002.6 1069.5,1002.9 1068.5,1003.1 1067.5,1003.3 1066.5,1003.6 1065.5,1003.8 1064.5,1004.0 1063.5,1004.3 1062.5,1004.5 1061.5,1003.6 1060.5,1002.7 1059.5,1001.8 1058.5,1001.0 1057.5,1000.1 1056.5,999.2 1055.5,998.3 1054.5,997.4 1053.5,996.5 1052.5,995.6 1051.5,994.7 1050.5,993.9 1049.5,993.0 1048.5,992.1 1047.5,991.2 1046.5,990.2 1045.5,989.2 1044.5,988.2 1043.5,987.2 1042.5,986.2 1041.5,985.2 1040.5,984.2 1039.5,980.0 1038.5,972.5 1037.5,965.8 1036.5,956.6 1035.5,945.4 1034.5,930.7 1033.5,910.0 1032.5,889.5 1031.5,910.0 1030.5,936.9 1029.5,948.4 1028.5,953.2 1027.5,958.0 1026.5,962.8 1025.5,967.6 1024.5,970.2 1023.5,970.6 1022.5,972.0 1021.5,973.4 1020.5,974.7 1019.5,976.1 1018.5,977.5 1017.5,978.2 1016.5,978.6 1015.5,979.1 1014.5,979.6 1013.5,980.0 1012.5,980.5 1011.5,980.9 1010.5,981.4 1009.5,981.9 1008.5,982.3 1007.5,982.8 1006.5,981.7 1005.5,980.6 1004.5,979.5 1003.5,978.4 1002.5,977.3 1001.5,976.2 1000.5,975.0 999.5,973.9 998.5,972.8 997.5,971.7 996.5,970.6 995.5,969.5 994.5,968.4 993.5,967.3 992.5,966.2 991.5,965.2 990.5,964.7 989.5,964.2 988.5,963.7 987.5,963.2 986.5,962.7 985.5,962.2 984.5,961.8 983.5,961.3 982.5,960.8 981.5,960.3 980.5,959.8 979.5,959.3 978.5,958.8 977.5,957.3 976.5,955.5 975.5,953.7 974.5,951.9 973.5,950.1 972.5,948.3 971.5,946.6 970.5,943.8 969.5,938.6 968.5,933.4 967.5,928.3 966.5,923.1 965.5,918.0 964.5,913.8 963.5,900.0 962.5,894.5 961.5,908.3 960.5,926.4 959.5,938.0 958.5,948.0 957.5,950.7 956.5,951.6 955.5,952.5 954.5,953.9 953.5,955.4 952.5,956.8 951.5,958.2 950.5,959.7 949.5,961.1 948.5,962.5 947.5,963.8 946.5,965.0 945.5,966.2 944.5,967.4 943.5,968.6 942.5,969.8 941.5,971.0 940.5,972.2 939.5,973.4 938.5,974.6 937.5,975.8 936.5,977.0 935.5,978.2 934.5,979.4 933.5,979.0 932.5,977.9 931.5,976.8 930.5,975.7 929.5,974.6 928.5,973.5 927.5,972.4 926.5,971.3 925.5,970.2 924.5,969.1 923.5,968.0 922.5,967.6 921.5,967.4 920.5,967.2 919.5,966.9 918.5,966.7 917.5,966.5 916.5,966.2 915.5,966.0 914.5,965.8 913.5,965.5 912.5,965.2 911.5,964.9 910.5,964.6 909.5,964.2 908.5,963.9 907.5,963.6 906.5,963.3 905.5,963.0 904.5,962.7 903.5,962.4 902.5,962.1 901.5,961.8 900.5,961.5 899.5,961.2 898.5,960.9 897.5,960.5 896.5,960.4 895.5,960.8 894.5,961.3 893.5,961.7 892.5,962.2 891.5,962.6 890.5,963.1 889.5,963.5 888.5,964.0 887.5,964.4 886.5,964.7 885.5,964.4 884.5,964.0 883.5,963.7 882.5,963.3 881.5,963.0 880.5,962.6 879.5,962.3 878.5,961.9 877.5,961.6 876.5,961.2 875.5,960.9 874.5,960.6 873.5,960.3 872.5,960.1 871.5,959.8 870.5,959.6 869.5,959.3 868.5,959.1 867.5,958.8 866.5,958.6 865.5,958.3 864.5,958.1 863.5,957.8 862.5,957.9 861.5,958.0 860.5,958.2 859.5,958.3 858.5,958.5 857.5,958.6 856.5,958.7 855.5,958.9 854.5,959.0 853.5,959.1 852.5,959.3 851.5,959.4 850.5,959.5 849.5,959.7 848.5,959.8 847.5,960.0 846.5,960.1 845.5,960.2 844.5,960.4 843.5,960.5 842.5,960.6 841.5,960.0 840.5,958.5 839.5,957.1 838.5,955.7 837.5,954.2 836.5,952.8 835.5,951.4 834.5,949.9 833.5,948.9 832.5,948.0 831.5,947.2 830.5,946.3 829.5,945.4 828.5,944.6 827.5,943.7 826.5,942.6 825.5,941.5 824.5,940.3 823.5,939.2 822.5,938.1 821.5,937.0 820.5,935.2 819.5,932.0 818.5,928.8 817.5,925.5 816.5,922.3 815.5,919.1 814.5,917.1 813.5,904.2 812.5,889.4 811.5,877.8 810.5,871.2 809.5,906.7 808.5,911.2 807.5,915.7 806.5,920.2 805.5,923.3 804.5,923.4 803.5,924.7 802.5,925.9 801.5,927.1 800.5,928.4 799.5,929.6 798.5,929.8 797.5,929.6 796.5,929.4 795.5,929.2 794.5,929.0 793.5,928.7 792.5,928.5 791.5,928.3 790.5,928.1 789.5,927.9 788.5,927.6 787.5,927.4 786.5,927.2 785.5,927.0 784.5,926.8 783.5,925.6 782.5,923.9 781.5,922.3 780.5,920.6 779.5,919.0 778.5,917.4 777.5,915.7 776.5,914.1 775.5,912.4 774.5,910.8 773.5,909.2 772.5,907.5 771.5,905.7 770.5,903.4 769.5,901.1 768.5,898.7 767.5,896.4 766.5,894.1 765.5,891.7 764.5,889.4 763.5,888.3 762.5,887.7 761.5,887.2 760.5,886.6 759.5,886.1 758.5,885.5 757.5,884.9 756.5,884.4 755.5,883.8 754.5,883.2 753.5,882.7 752.5,882.1 751.5,881.5 750.5,881.0 749.5,867.4 748.5,840.9 747.5,806.5 746.5,739.0 745.5,698.1 744.5,721.2 743.5,738.2 742.5,749.3 741.5,760.4 740.5,771.5 739.5,768.2 738.5,750.7 737.5,733.1 736.5,762.9 735.5,804.8 734.5,840.4 733.5,846.5 732.5,853.0 731.5,858.1 730.5,860.0 729.5,861.9 728.5,863.8 727.5,865.7 726.5,867.6 725.5,869.5 724.5,871.4 723.5,873.3 722.5,875.3 721.5,877.2 720.5,877.5 719.5,874.0 718.5,870.6 717.5,867.2 716.5,863.8 715.5,860.3 714.5,856.9 713.5,853.5 712.5,850.0 711.5,846.6 710.5,842.4 709.5,836.2 708.5,830.1 707.5,824.0 706.5,817.9 705.5,806.8 704.5,784.4 703.5,738.8 702.5,688.5 701.5,623.0 700.5,669.8 699.5,703.8 698.5,737.9 697.5,775.0 696.5,810.2 695.5,837.9 694.5,844.3 693.5,847.1 692.5,850.0 691.5,852.9 690.5,854.6 689.5,854.5 688.5,854.5 687.5,854.5 686.5,854.6 685.5,854.7 684.5,854.7 683.5,854.8 682.5,854.8 681.5,854.9 680.5,855.0 679.5,855.0 678.5,855.1 677.5,855.1 676.5,855.2 675.5,855.3 674.5,856.0 673.5,857.3 672.5,858.6 671.5,860.0 670.5,861.3 669.5,862.6 668.5,864.0 667.5,865.3 666.5,864.0 665.5,862.6 664.5,861.3 663.5,860.0 662.5,858.6 661.5,857.3 660.5,856.0 659.5,855.1 658.5,854.6 657.5,854.1 656.5,853.6 655.5,853.2 654.5,852.7 653.5,852.2 652.5,851.7 651.5,851.3 650.5,850.8 649.5,850.3 648.5,849.9 647.5,849.4 646.5,849.0 645.5,849.3 644.5,849.5 643.5,849.8 642.5,850.0 641.5,850.3 640.5,850.5 639.5,850.8 638.5,851.0 637.5,851.3 636.5,851.5 635.5,851.4 634.5,850.6 633.5,849.8 632.5,848.9 631.5,848.1 630.5,847.2 629.5,846.4 628.5,845.6 627.5,844.7 626.5,843.9 625.5,843.0 624.5,842.2 623.5,841.4 622.5,841.7 621.5,842.4 620.5,843.1 619.5,843.7 618.5,844.4 617.5,845.1 616.5,845.7 615.5,846.4 614.5,847.0 613.5,847.7 612.5,848.4 611.5,849.0 610.5,849.5 609.5,849.5 608.5,849.5 607.5,849.5 606.5,849.5 605.5,849.5 604.5,849.5 603.5,849.5 602.5,849.5 601.5,849.5 600.5,849.5 599.5,849.5 598.5,849.5 597.5,849.5 596.5,849.5 595.5,849.5 594.5,849.5 593.5,849.2 592.5,848.9 591.5,848.5 590.5,848.2 589.5,847.8 588.5,847.4 587.5,847.1 586.5,846.7 585.5,846.3 584.5,846.0 583.5,845.6 582.5,845.2 581.5,844.9 580.5,844.5 579.5,844.1 578.5,843.8 577.5,844.6 576.5,845.8 575.5,847.0 574.5,848.2 573.5,849.4 572.5,850.6 571.5,851.8 570.5,853.0 569.5,854.1 568.5,853.1 567.5,851.2 566.5,849.3 565.5,847.3 564.5,845.4 563.5,843.4 562.5,841.5 561.5,839.6 560.5,837.6 559.5,835.7 558.5,833.7 557.5,833.3 556.5,842.0 555.5,850.7 554.5,859.7 553.5,868.8 552.5,874.6 551.5,877.9 550.5,882.0 549.5,886.1 548.5,890.2 547.5,894.3 546.5,898.3 545.5,901.5 544.5,902.6 543.5,903.6 542.5,904.7 541.5,905.7 540.5,906.8 539.5,908.3 538.5,910.3 537.5,912.2 536.5,914.2 535.5,916.2 534.5,918.2 533.5,920.1 532.5,922.1 531.5,923.9 530.5,924.6 529.5,925.4 528.5,926.2 527.5,926.9 526.5,927.7 525.5,928.5 524.5,929.3 523.5,930.4 522.5,931.6 521.5,932.9 520.5,934.2 519.5,935.4 518.5,936.7 517.5,938.0 516.5,939.2 515.5,940.5 514.5,941.8 513.5,943.0 512.5,944.3 511.5,945.2 510.5,944.4 509.5,943.7 508.5,943.0 507.5,942.3 506.5,941.6 505.5,940.9 504.5,940.2 503.5,939.5 502.5,938.8 501.5,938.1 500.5,937.4 499.5,937.7 498.5,939.1 497.5,940.5 496.5,941.9 495.5,943.3 494.5,944.8 493.5,946.2 492.5,947.6 491.5,949.0 490.5,950.5 489.5,952.0 488.5,953.5 487.5,955.0 486.5,956.4 485.5,957.2 484.5,958.0 483.5,958.9 482.5,959.7 481.5,960.5 480.5,961.3 479.5,962.2 478.5,963.0 477.5,963.8 476.5,964.5 475.5,964.5 474.5,964.5 473.5,964.5 472.5,964.5 471.5,964.5 470.5,964.5 469.5,964.5 468.5,964.5 467.5,965.6 466.5,966.9 465.5,968.2 464.5,969.6 463.5,970.9 462.5,972.3 461.5,973.6 460.5,974.9 459.5,976.3 458.5,977.6 457.5,979.0 456.5,980.3 455.5,981.6 454.5,982.3 453.5,982.3 452.5,982.3 451.5,982.3 450.5,982.3 449.5,982.3 448.5,982.3 447.5,982.3 446.5,982.3 445.5,982.3 444.5,982.3 443.5,982.3 442.5,982.3 441.5,982.3 440.5,982.4 439.5,982.6 438.5,982.8 437.5,983.0 436.5,983.2 435.5,983.4 434.5,983.6 433.5,983.9 432.5,984.1 431.5,984.3 430.5,984.5 429.5,984.7 428.5,984.9 427.5,985.1 426.5,985.5 425.5,986.5 424.5,987.5 423.5,988.5 422.5,989.5 421.5,990.5 420.5,991.5 419.5,992.5 418.5,993.5 417.5,994.5 416.5,993.9 415.5,993.3 414.5,992.7 413.5,992.1 412.5,991.5 411.5,990.9 410.5,990.3 409.5,989.7 408.5,989.1 407.5,988.5 406.5,987.9 405.5,987.3 404.5,987.3 403.5,987.8 402.5,988.3 401.5,988.8 400.5,989.3 399.5,989.8 398.5,990.3 397.5,990.8 396.5,991.3 395.5,991.6 394.5,991.9 393.5,992.3 392.5,992.6 391.5,992.9 390.5,993.2 389.5,993.6 388.5,993.9 387.5,994.2 386.5,994.6 385.5,994.9 384.5,995.3 383.5,995.6 382.5,996.0 381.5,996.4 380.5,996.7 379.5,997.1 378.5,997.4 377.5,997.8 376.5,998.2 375.5,998.5 374.5,998.7 373.5,998.8 372.5,998.8 371.5,998.9 370.5,998.9 369.5,999.0 368.5,999.0 367.5,999.1 366.5,999.2 365.5,999.2 364.5,999.3 363.5,999.3 362.5,999.4 361.5,999.4 360.5,999.5 359.5,999.5 358.5,999.5 357.5,999.5 356.5,999.5 355.5,999.5 354.5,999.5 353.5,999.5 352.5,999.5 351.5,999.5 350.5,999.5 349.5,999.5 348.5,999.5 347.5,999.9 346.5,1000.4 345.5,1000.9 344.5,1001.4 343.5,1001.9 342.5,1002.4 341.5,1002.9 340.5,1003.4 339.5,1003.9 338.5,1004.4 337.5,1004.9 336.5,1005.5 335.5,1006.1 334.5,1006.6 333.5,1007.2 332.5,1007.7 331.5,1008.3 330.5,1008.7 329.5,1008.5 328.5,1008.3 327.5,1008.2 326.5,1008.0 325.5,1007.9 324.5,1007.7 323.5,1007.5 322.5,1007.4 321.5,1007.2 320.5,1007.1 319.5,1006.9 318.5,1006.7 317.5,1006.7 316.5,1006.7 315.5,1006.7 314.5,1006.7 313.5,1006.7 312.5,1006.7 311.5,1006.7 310.5,1006.7 309.5,1006.7 308.5,1006.7 307.5,1006.7 306.5,1006.7 305.5,1006.9 304.5,1007.1 303.5,1007.3 302.5,1007.5 301.5,1007.7 300.5,1007.9 299.5,1008.1 298.5,1008.3 297.5,1008.5 296.5,1008.7 295.5,1008.7 294.5,1008.7 293.5,1008.7 292.5,1008.7 291.5,1008.7 290.5,1008.7 289.5,1008.7 288.5,1008.7 287.5,1008.2 286.5,1007.6 285.5,1006.9 284.5,1006.3 283.5,1005.7 282.5,1005.0 281.5,1004.4 280.5,1003.8 279.5,1003.1 278.5,1002.5 277.5,1001.9 276.5,1001.2 275.5,1000.6 274.5,999.9 273.5,999.0 272.5,998.1 271.5,997.2 270.5,996.3 269.5,995.4 268.5,994.5 267.5,993.6 266.5,992.8 265.5,991.9 264.5,991.0 263.5,990.1 262.5,989.2 261.5,988.3 260.5,987.4 259.5,987.2 258.5,987.7 257.5,988.1 256.5,988.5 255.5,989.0 254.5,989.4 253.5,989.8 252.5,990.3 251.5,990.7 250.5,991.1 249.5,991.6 248.5,991.4 247.5,991.1 246.5,990.7 245.5,990.3 244.5,989.9 243.5,989.6 242.5,989.2 241.5,988.8 240.5,988.5 239.5,988.1 238.5,987.7 237.5,987.3 236.5,987.0 235.5,986.3 234.5,985.0 233.5,983.6 232.5,982.3 231.5,980.9 230.5,979.6 229.5,978.3 228.5,976.9 227.5,975.6 226.5,974.4 225.5,974.0 224.5,973.6 223.5,973.3 222.5,972.9 221.5,972.5 220.5,972.1 219.5,971.7 218.5,971.3 217.5,970.9 216.5,970.6 215.5,970.2 214.5,969.8 213.5,969.4 212.5,969.0 211.5,968.5 210.5,967.6 209.5,966.7 208.5,965.8 207.5,964.8 206.5,963.9 205.5,963.0 204.5,962.1 203.5,961.2 202.5,960.2 201.5,959.4 200.5,958.8 199.5,958.2 198.5,957.7 197.5,957.1 196.5,956.5 195.5,956.0 194.5,955.4 193.5,954.8 192.5,954.3 191.5,953.7 190.5,953.5 189.5,954.4 188.5,955.2 187.5,956.0 186.5,956.8 185.5,957.6 184.5,958.4 183.5,959.2 182.5,960.0 181.5,960.7 180.5,960.7 179.5,960.7 178.5,960.7 177.5,960.7 176.5,960.7 175.5,960.7 174.5,960.7 173.5,960.7 172.5,960.7 171.5,960.7 170.5,960.7 169.5,959.6 168.5,957.3 167.5,955.0 166.5,952.7 165.5,950.4 164.5,948.4 163.5,947.3"/>
<polyline class="ln" stroke-width="13" stroke="#000" points="158.0,947.3 163.5,947.3 166.7,947.3 170.0,962.2 174.2,949.0 180.0,946.8 181.7,962.2 189.2,942.8 190.8,954.8 196.2,948.8 201.7,961.0 202.5,937.3 207.1,952.8 211.7,946.8 211.7,970.2 218.3,959.0 226.7,976.0 232.5,963.2 235.8,988.2 246.3,964.8 249.2,993.2 254.6,982.5 260.0,988.5 263.3,968.5 268.3,988.3 273.3,982.3 275.0,1001.8 285.0,995.7 288.3,1010.2 292.5,1004.2 296.7,1010.2 299.2,992.7 306.7,1008.2 312.0,990.7 318.3,1008.2 325.0,992.7 330.8,1010.2 335.0,1001.5 338.3,1006.0 345.0,990.7 348.3,1001.0 353.3,994.8 360.0,1001.0 361.7,983.5 365.8,992.5 370.0,986.5 375.0,1000.2 378.3,976.8 382.5,990.8 386.7,984.8 386.7,996.0 391.7,986.7 396.7,992.7 399.2,973.5 405.0,988.5 408.3,976.0 417.5,996.0 418.3,976.5 426.7,986.8 429.2,962.7 433.8,975.0 438.3,969.0 440.8,983.8 448.3,969.8 455.0,983.8 455.8,959.8 460.4,965.8 465.0,950.7 468.3,966.0 472.5,960.0 476.7,966.0 477.5,949.8 486.7,957.7 486.7,930.7 491.7,950.2 493.3,924.0 500.0,938.5 502.5,916.8 506.2,925.0 510.0,919.0 511.7,946.8 519.2,903.7 524.2,931.0 527.9,919.2 531.7,925.2 534.2,896.8 540.0,908.8 543.3,883.2 545.8,902.7 553.0,873.3 555.2,853.3 557.5,833.3 564.2,812.7 569.2,856.0 574.2,816.8 578.3,845.2 588.3,819.5 594.2,851.0 603.3,816.8 610.8,851.0 611.7,821.5 616.2,827.5 620.8,812.7 623.3,842.7 631.7,834.0 635.8,853.2 640.0,835.7 646.7,850.5 647.5,828.5 652.1,834.5 656.7,821.5 660.0,856.8 663.8,850.8 667.5,866.8 669.2,824.8 675.0,856.8 679.2,831.5 682.9,844.5 686.7,838.5 688.3,856.0 690.9,856.1 695.3,843.4 696.9,799.1 698.0,754.9 699.3,710.6 700.6,666.4 701.5,623.0 702.2,666.4 702.8,710.6 703.9,754.9 704.8,799.1 706.8,821.2 710.8,845.7 715.9,830.4 720.8,880.0 724.5,847.2 731.8,859.0 734.9,838.9 735.6,799.1 736.7,754.9 737.3,729.6 740.0,777.0 744.0,732.7 745.8,691.2 746.4,732.7 747.1,777.0 747.7,821.2 750.0,882.2 758.4,826.6 764.2,890.2 771.7,880.7 771.7,907.7 779.2,884.5 784.2,928.2 788.3,906.5 794.2,908.5 799.2,931.5 805.8,923.3 809.5,906.7 809.8,873.3 810.8,870.3 811.7,880.0 812.7,891.7 814.3,916.7 820.8,937.7 825.8,922.7 827.5,945.2 834.2,924.0 834.2,951.0 838.1,945.0 842.0,962.2 850.8,932.7 855.0,930.7 863.3,959.3 871.7,950.7 875.0,962.2 881.7,950.7 886.7,966.3 890.8,942.8 896.7,961.8 900.0,935.7 906.7,941.7 913.3,932.7 914.2,967.2 918.8,961.2 923.3,969.3 928.3,958.2 934.2,981.3 941.7,953.2 947.5,953.2 948.3,964.3 958.3,950.0 960.3,930.0 961.5,908.3 962.5,894.5 963.5,900.0 964.3,913.3 970.8,946.8 974.2,916.5 978.3,960.2 987.5,940.7 991.7,966.8 1001.7,962.3 1007.5,984.3 1014.2,961.5 1018.3,979.3 1025.0,970.0 1030.2,945.0 1031.0,923.3 1032.0,896.7 1032.5,889.5 1033.0,896.7 1034.0,923.3 1035.7,948.3 1037.3,965.0 1040.0,985.2 1043.8,979.2 1047.5,992.7 1053.3,980.7 1057.5,981.2 1062.5,1006.0 1073.3,992.8 1073.3,1003.5 1077.9,997.5 1082.5,1008.2 1086.7,990.7 1091.7,989.0 1099.2,1006.0 1101.7,994.8 1109.2,998.5 1110.0,979.5 1115.0,979.0 1119.0,985.0 1123.0,973.5 1125.0,999.8 1130.8,993.8 1136.7,1001.0 1139.2,990.7 1146.7,1006.0 1151.7,992.8 1159.2,1008.2 1164.2,989.8 1170.0,993.2 1174.2,981.7 1175.5,956.7 1176.3,940.0 1177.7,911.7 1178.7,904.8 1179.8,913.3 1181.2,926.7 1182.8,948.3 1184.2,973.3 1185.8,997.7 1194.2,988.2 1194.2,1000.2 1198.3,994.2 1202.5,1012.2 1204.2,995.7 1210.0,1011.8 1211.7,994.0 1221.7,1005.2 1225.0,994.0 1228.8,1001.7 1232.5,995.7 1233.3,1013.2 1247.5,995.7 1250.0,1005.2 1256.7,999.5 1261.7,1012.2 1267.5,1004.2 1273.3,1010.2 1275.8,993.5 1284.2,1008.2 1285.0,998.2 1288.8,1004.2 1292.5,994.0 1297.5,1006.5 1302.0,980.0 1303.7,957.7 1306.7,973.3 1310.0,1006.0 1313.8,1000.0 1317.5,1006.3 1320.8,987.7 1328.3,1013.2 1334.7,996.7 1336.7,1013.2 1340.8,987.7 1343.3,1000.0 1347.5,1018.2 1351.7,1009.8 1357.5,1018.2 1363.3,1002.3 1368.3,1016.2 1373.3,1010.2 1380.0,1022.2 1387.5,1007.7 1391.7,1020.2 1396.7,1013.2 1403.3,1025.5 1405.8,1008.2 1409.2,1014.2 1412.5,1004.0 1420.0,1010.2 1422.8,978.5 1426.4,992.0 1430.0,986.0 1430.0,1001.8 1434.2,995.8 1438.3,1017.2 1444.2,1001.0 1448.3,1018.2 1454.7,986.5 1458.8,992.5 1463.0,973.5 1465.8,998.2 1471.7,981.0 1477.5,982.7 1482.5,1013.2 1494.2,985.7 1496.7,1009.8 1501.7,1003.8 1506.7,1015.2 1515.0,995.7 1520.8,1015.2 1525.0,1001.0 1529.2,1010.5 1533.3,1004.5 1538.3,1004.0 1540.8,1023.2 1546.7,1000.0 1548.3,990.0 1550.5,963.3 1552.0,949.5 1556.3,949.5 1557.8,971.7 1559.5,986.7 1560.8,1006.8 1568.3,990.7 1574.2,1021.8 1581.7,1006.0 1588.3,1017.2 1597.5,1004.0 1600.0,1018.2 1610.0,1007.3 1610.8,1020.2 1614.6,1010.8 1618.3,1016.8 1620.0,1003.2 1622.5,1003.2 1630.0,1003.2"/>
<polyline class="ln" stroke-width="10" stroke="#000" shape-rendering="geometricPrecision" points="158.0,947.3 163.5,947.3 166.7,947.3 170.0,962.2 174.2,949.0 180.0,946.8 181.7,962.2 189.2,942.8 190.8,954.8 196.2,948.8 201.7,961.0 202.5,937.3 207.1,952.8 211.7,946.8 211.7,970.2 218.3,959.0 226.7,976.0 232.5,963.2 235.8,988.2 246.3,964.8 249.2,993.2 254.6,982.5 260.0,988.5 263.3,968.5 268.3,988.3 273.3,982.3 275.0,1001.8 285.0,995.7 288.3,1010.2 292.5,1004.2 296.7,1010.2 299.2,992.7 306.7,1008.2 312.0,990.7 318.3,1008.2 325.0,992.7 330.8,1010.2 335.0,1001.5 338.3,1006.0 345.0,990.7 348.3,1001.0 353.3,994.8 360.0,1001.0 361.7,983.5 365.8,992.5 370.0,986.5 375.0,1000.2 378.3,976.8 382.5,990.8 386.7,984.8 386.7,996.0 391.7,986.7 396.7,992.7 399.2,973.5 405.0,988.5 408.3,976.0 417.5,996.0 418.3,976.5 426.7,986.8 429.2,962.7 433.8,975.0 438.3,969.0 440.8,983.8 448.3,969.8 455.0,983.8 455.8,959.8 460.4,965.8 465.0,950.7 468.3,966.0 472.5,960.0 476.7,966.0 477.5,949.8 486.7,957.7 486.7,930.7 491.7,950.2 493.3,924.0 500.0,938.5 502.5,916.8 506.2,925.0 510.0,919.0 511.7,946.8 519.2,903.7 524.2,931.0 527.9,919.2 531.7,925.2 534.2,896.8 540.0,908.8 543.3,883.2 545.8,902.7 553.0,873.3 555.2,853.3 557.5,833.3 564.2,812.7 569.2,856.0 574.2,816.8 578.3,845.2 588.3,819.5 594.2,851.0 603.3,816.8 610.8,851.0 611.7,821.5 616.2,827.5 620.8,812.7 623.3,842.7 631.7,834.0 635.8,853.2 640.0,835.7 646.7,850.5 647.5,828.5 652.1,834.5 656.7,821.5 660.0,856.8 663.8,850.8 667.5,866.8 669.2,824.8 675.0,856.8 679.2,831.5 682.9,844.5 686.7,838.5 688.3,856.0 690.9,856.1 695.3,843.4 696.9,799.1 698.0,754.9 699.3,710.6 700.6,666.4 701.5,623.0 702.2,666.4 702.8,710.6 703.9,754.9 704.8,799.1 706.8,821.2 710.8,845.7 715.9,830.4 720.8,880.0 724.5,847.2 731.8,859.0 734.9,838.9 735.6,799.1 736.7,754.9 737.3,729.6 740.0,777.0 744.0,732.7 745.8,691.2 746.4,732.7 747.1,777.0 747.7,821.2 750.0,882.2 758.4,826.6 764.2,890.2 771.7,880.7 771.7,907.7 779.2,884.5 784.2,928.2 788.3,906.5 794.2,908.5 799.2,931.5 805.8,923.3 809.5,906.7 809.8,873.3 810.8,870.3 811.7,880.0 812.7,891.7 814.3,916.7 820.8,937.7 825.8,922.7 827.5,945.2 834.2,924.0 834.2,951.0 838.1,945.0 842.0,962.2 850.8,932.7 855.0,930.7 863.3,959.3 871.7,950.7 875.0,962.2 881.7,950.7 886.7,966.3 890.8,942.8 896.7,961.8 900.0,935.7 906.7,941.7 913.3,932.7 914.2,967.2 918.8,961.2 923.3,969.3 928.3,958.2 934.2,981.3 941.7,953.2 947.5,953.2 948.3,964.3 958.3,950.0 960.3,930.0 961.5,908.3 962.5,894.5 963.5,900.0 964.3,913.3 970.8,946.8 974.2,916.5 978.3,960.2 987.5,940.7 991.7,966.8 1001.7,962.3 1007.5,984.3 1014.2,961.5 1018.3,979.3 1025.0,970.0 1030.2,945.0 1031.0,923.3 1032.0,896.7 1032.5,889.5 1033.0,896.7 1034.0,923.3 1035.7,948.3 1037.3,965.0 1040.0,985.2 1043.8,979.2 1047.5,992.7 1053.3,980.7 1057.5,981.2 1062.5,1006.0 1073.3,992.8 1073.3,1003.5 1077.9,997.5 1082.5,1008.2 1086.7,990.7 1091.7,989.0 1099.2,1006.0 1101.7,994.8 1109.2,998.5 1110.0,979.5 1115.0,979.0 1119.0,985.0 1123.0,973.5 1125.0,999.8 1130.8,993.8 1136.7,1001.0 1139.2,990.7 1146.7,1006.0 1151.7,992.8 1159.2,1008.2 1164.2,989.8 1170.0,993.2 1174.2,981.7 1175.5,956.7 1176.3,940.0 1177.7,911.7 1178.7,904.8 1179.8,913.3 1181.2,926.7 1182.8,948.3 1184.2,973.3 1185.8,997.7 1194.2,988.2 1194.2,1000.2 1198.3,994.2 1202.5,1012.2 1204.2,995.7 1210.0,1011.8 1211.7,994.0 1221.7,1005.2 1225.0,994.0 1228.8,1001.7 1232.5,995.7 1233.3,1013.2 1247.5,995.7 1250.0,1005.2 1256.7,999.5 1261.7,1012.2 1267.5,1004.2 1273.3,1010.2 1275.8,993.5 1284.2,1008.2 1285.0,998.2 1288.8,1004.2 1292.5,994.0 1297.5,1006.5 1302.0,980.0 1303.7,957.7 1306.7,973.3 1310.0,1006.0 1313.8,1000.0 1317.5,1006.3 1320.8,987.7 1328.3,1013.2 1334.7,996.7 1336.7,1013.2 1340.8,987.7 1343.3,1000.0 1347.5,1018.2 1351.7,1009.8 1357.5,1018.2 1363.3,1002.3 1368.3,1016.2 1373.3,1010.2 1380.0,1022.2 1387.5,1007.7 1391.7,1020.2 1396.7,1013.2 1403.3,1025.5 1405.8,1008.2 1409.2,1014.2 1412.5,1004.0 1420.0,1010.2 1422.8,978.5 1426.4,992.0 1430.0,986.0 1430.0,1001.8 1434.2,995.8 1438.3,1017.2 1444.2,1001.0 1448.3,1018.2 1454.7,986.5 1458.8,992.5 1463.0,973.5 1465.8,998.2 1471.7,981.0 1477.5,982.7 1482.5,1013.2 1494.2,985.7 1496.7,1009.8 1501.7,1003.8 1506.7,1015.2 1515.0,995.7 1520.8,1015.2 1525.0,1001.0 1529.2,1010.5 1533.3,1004.5 1538.3,1004.0 1540.8,1023.2 1546.7,1000.0 1548.3,990.0 1550.5,963.3 1552.0,949.5 1556.3,949.5 1557.8,971.7 1559.5,986.7 1560.8,1006.8 1568.3,990.7 1574.2,1021.8 1581.7,1006.0 1588.3,1017.2 1597.5,1004.0 1600.0,1018.2 1610.0,1007.3 1610.8,1020.2 1614.6,1010.8 1618.3,1016.8 1620.0,1003.2 1622.5,1003.2 1630.0,1003.2"/>
<polyline class="ln" stroke-width="13" stroke="#f00" points="158.0,571.2 163.5,571.2 164.5,571.5 165.5,571.4 166.5,571.6 167.5,571.6 168.5,571.0 169.5,571.0 170.5,571.9 171.5,571.2 172.5,571.2 173.5,572.0 174.5,571.5 175.5,571.9 176.5,571.5 177.5,571.7 178.5,571.1 179.5,571.6 180.5,571.9 181.5,571.5 182.5,571.8 183.5,571.7 184.5,571.0 185.5,571.8 186.5,571.6 187.5,571.3 188.5,571.0 189.5,571.9 190.5,571.5 191.5,571.7 192.5,571.9 193.5,571.7 194.5,572.0 195.5,571.4 196.5,571.8 197.5,571.4 198.5,572.0 199.5,571.9 200.5,571.1 201.5,571.1 202.5,571.2 203.5,572.0 204.5,571.4 205.5,571.6 206.5,571.3 207.5,571.5 208.5,571.4 209.5,571.3 210.5,571.6 211.5,571.6 212.5,571.9 213.5,571.7 214.5,572.0 215.5,571.9 216.5,572.0 217.5,571.7 218.5,571.1 219.5,571.9 220.5,572.0 221.5,571.9 222.5,571.6 223.5,571.7 224.5,571.2 225.5,571.9 226.5,571.6 227.5,571.3 228.5,571.0 229.5,571.9 230.5,572.0 231.5,571.0 232.5,571.8 233.5,571.4 234.5,571.1 235.5,571.3 236.5,571.8 237.5,571.9 238.5,571.0 239.5,571.6 240.5,571.0 241.5,571.7 242.5,571.3 243.5,571.9 244.5,572.0 245.5,571.5 246.5,572.0 247.5,571.3 248.5,571.0 249.5,571.6 250.5,571.0 251.5,571.2 252.5,571.4 253.5,571.6 254.5,571.1 255.5,571.0 256.5,571.9 257.5,571.3 258.5,572.0 259.5,571.9 260.5,571.4 261.5,571.5 262.5,571.5 263.5,571.7 264.5,571.6 265.5,571.6 266.5,571.6 267.5,572.0 268.5,571.5 269.5,571.4 270.5,571.7 271.5,571.2 272.5,571.3 273.5,572.0 274.5,571.5 275.5,571.6 276.5,571.0 277.5,571.4 278.5,571.6 279.5,571.0 280.5,571.6 281.5,571.6 282.5,571.0 283.5,571.6 284.5,571.5 285.5,571.7 286.5,571.3 287.5,571.7 288.5,571.8 289.5,571.0 290.5,571.0 291.5,571.7 292.5,572.0 293.5,571.2 294.5,571.5 295.5,571.6 296.5,571.3 297.5,571.4 298.5,571.3 299.5,571.4 300.5,571.6 301.5,571.3 302.5,571.4 303.5,571.8 304.5,571.0 305.5,571.6 306.5,571.8 307.5,571.3 308.5,571.2 309.5,571.8 310.5,571.2 311.5,571.2 312.5,571.4 313.5,571.7 314.5,571.1 315.5,571.3 316.5,571.3 317.5,571.9 318.5,571.4 319.5,571.9 320.5,571.1 321.5,571.3 322.5,571.7 323.5,571.9 324.5,571.4 325.5,571.2 326.5,571.1 327.5,571.5 328.5,571.2 329.5,571.8 330.5,571.9 331.5,571.2 332.5,571.3 333.5,571.8 334.5,571.7 335.5,571.8 336.5,571.3 337.5,571.1 338.5,571.3 339.5,571.8 340.5,571.2 341.5,571.3 342.5,571.4 343.5,571.4 344.5,571.4 345.5,572.0 346.5,571.1 347.5,571.0 348.5,572.0 349.5,571.9 350.5,572.0 351.5,571.4 352.5,572.0 353.5,572.0 354.5,571.2 355.5,571.8 356.5,571.9 357.5,571.7 358.5,571.5 359.5,571.3 360.5,571.3 361.5,571.2 362.5,571.0 363.5,571.6 364.5,571.3 365.5,571.8 366.5,571.0 367.5,571.9 368.5,571.7 369.5,572.0 370.5,571.9 371.5,571.9 372.5,571.6 373.5,571.0 374.5,571.8 375.5,571.1 376.5,571.3 377.5,571.7 378.5,571.5 379.5,571.4 380.5,572.0 381.5,571.6 382.5,571.3 383.5,571.2 384.5,571.9 385.5,571.5 386.5,571.8 387.5,571.3 388.5,571.2 389.5,571.5 390.5,571.8 391.5,571.1 392.5,571.8 393.5,572.0 394.5,571.8 395.5,571.9 396.5,571.0 397.5,571.6 398.5,571.9 399.5,571.0 400.5,571.2 401.5,571.2 402.5,571.5 403.5,571.4 404.5,571.5 405.5,571.8 406.5,571.0 407.5,571.0 408.5,571.1 409.5,571.1 410.5,571.0 411.5,572.0 412.5,571.9 413.5,571.0 414.5,571.5 415.5,571.3 416.5,571.3 417.5,571.3 418.5,571.7 419.5,571.6 420.5,571.3 421.5,571.2 422.5,571.3 423.5,571.1 424.5,571.6 425.5,571.7 426.5,571.4 427.5,571.0 428.5,571.1 429.5,571.4 430.5,571.6 431.5,571.8 432.5,571.4 433.5,571.8 434.5,571.6 435.5,571.4 436.5,571.4 437.5,571.5 438.5,571.7 439.5,571.4 440.5,571.7 441.5,571.5 442.5,571.2 443.5,571.5 444.5,571.7 445.5,571.0 446.5,571.4 447.5,571.4 448.5,571.9 449.5,572.0 450.5,571.4 451.5,571.9 452.5,571.8 453.5,571.2 454.5,571.5 455.5,571.1 456.5,571.8 457.5,571.7 458.5,571.9 459.5,571.8 460.5,571.7 461.5,571.8 462.5,571.6 463.5,571.1 464.5,571.6 465.5,571.0 466.5,571.1 467.5,571.8 468.5,571.0 469.5,571.1 470.5,571.1 471.5,571.9 472.5,571.1 473.5,571.0 474.5,571.9 475.5,571.1 476.5,571.9 477.5,571.7 478.5,571.9 479.5,572.0 480.5,571.6 481.5,571.8 482.5,570.9 483.5,571.6 484.5,571.3 485.5,571.4 486.5,570.6 487.5,571.1 488.5,571.1 489.5,569.8 490.5,569.7 491.5,569.6 492.5,569.5 493.5,568.4 494.5,567.9 495.5,567.6 496.5,567.7 497.5,567.7 498.5,567.1 499.5,567.1 500.5,567.3 501.5,567.4 502.5,567.8 503.5,567.8 504.5,568.7 505.5,569.7 506.5,569.5 507.5,570.2 508.5,569.9 509.5,570.8 510.5,571.1 511.5,571.2 512.5,571.2 513.5,571.3 514.5,571.5 515.5,571.8 516.5,571.1 517.5,571.0 518.5,571.8 519.5,571.9 520.5,571.5 521.5,571.4 522.5,571.7 523.5,571.2 524.5,571.2 525.5,571.2 526.5,571.6 527.5,571.3 528.5,571.2 529.5,571.7 530.5,572.0 531.5,571.3 532.5,571.7 533.5,571.4 534.5,571.9 535.5,571.6 536.5,571.2 537.5,571.2 538.5,571.0 539.5,571.5 540.5,571.4 541.5,571.1 542.5,571.3 543.5,571.2 544.5,571.4 545.5,570.3 546.5,570.5 547.5,568.7 548.5,566.9 549.5,564.1 550.5,561.4 551.5,557.9 552.5,554.5 553.5,552.3 554.5,551.7 555.5,552.7 556.5,554.4 557.5,557.8 558.5,561.5 559.5,564.1 560.5,566.5 561.5,568.4 562.5,570.2 563.5,570.9 564.5,571.6 565.5,571.7 566.5,571.2 567.5,571.1 568.5,571.2 569.5,571.2 570.5,571.7 571.5,571.9 572.5,571.9 573.5,571.2 574.5,571.9 575.5,571.3 576.5,571.3 577.5,571.4 578.5,569.8 579.5,567.8 580.5,564.5 581.5,557.0 582.5,547.9 583.5,539.0 584.5,533.2 585.5,532.5 586.5,538.7 587.5,548.0 588.5,557.2 589.5,563.8 590.5,568.4 591.5,570.8 592.5,571.0 593.5,571.4 594.5,571.1 595.5,571.2 596.5,571.7 597.5,571.1 598.5,571.9 599.5,571.9 600.5,571.1 601.5,572.0 602.5,571.4 603.5,571.8 604.5,571.8 605.5,571.3 606.5,571.7 607.5,571.7 608.5,571.8 609.5,571.2 610.5,571.8 611.5,572.0 612.5,571.7 613.5,571.5 614.5,571.1 615.5,571.5 616.5,571.3 617.5,571.7 618.5,571.7 619.5,571.5 620.5,571.1 621.5,571.5 622.5,571.5 623.5,570.9 624.5,571.7 625.5,571.3 626.5,570.7 627.5,571.5 628.5,570.5 629.5,570.6 630.5,570.9 631.5,570.6 632.5,570.4 633.5,570.4 634.5,570.1 635.5,569.8 636.5,569.6 637.5,569.4 638.5,570.0 639.5,570.0 640.5,569.8 641.5,570.0 642.5,569.6 643.5,569.5 644.5,569.7 645.5,570.3 646.5,569.5 647.5,570.1 648.5,569.9 649.5,570.5 650.5,570.1 651.5,570.1 652.5,570.2 653.5,570.4 654.5,570.6 655.5,570.1 656.5,570.6 657.5,569.8 658.5,569.9 659.5,569.6 660.5,569.5 661.5,570.2 662.5,570.1 663.5,569.4 664.5,569.3 665.5,569.5 666.5,569.8 667.5,569.9 668.5,569.8 669.5,569.6 670.5,569.1 671.5,569.4 672.5,569.2 673.5,569.6 674.5,569.7 675.5,569.4 676.5,569.5 677.5,570.2 678.5,569.4 679.5,570.4 680.5,570.6 681.5,570.7 682.5,570.2 683.5,570.5 684.5,570.6 685.5,570.8 686.5,571.2 687.5,571.0 688.5,570.6 689.5,571.3 690.5,570.9 691.5,571.0 692.5,571.1 693.5,570.1 694.5,570.7 695.5,570.2 696.5,569.5 697.5,568.9 698.5,568.1 699.5,567.0 700.5,566.6 701.5,565.5 702.5,565.6 703.5,565.6 704.5,565.6 705.5,566.1 706.5,567.2 707.5,567.9 708.5,567.8 709.5,569.3 710.5,569.8 711.5,569.8 712.5,570.5 713.5,570.7 714.5,570.7 715.5,571.4 716.5,571.9 717.5,571.3 718.5,571.9 719.5,571.7 720.5,571.1 721.5,571.9 722.0,570.0 726.0,568.0 729.0,562.0 730.6,552.0 732.5,521.0 735.2,455.0 737.2,366.0 737.8,327.5 738.4,366.0 739.5,455.0 739.9,521.0 741.0,552.0 742.5,562.0 745.0,567.5 749.0,570.0 749.5,571.6 750.5,572.0 751.5,571.7 752.5,571.8 753.5,571.3 754.5,571.8 755.5,572.0 756.5,571.9 757.5,571.4 758.5,571.7 759.5,571.4 760.5,570.9 761.5,570.7 762.5,570.5 763.5,570.3 764.5,569.7 765.5,569.5 766.5,569.0 767.5,568.2 768.5,567.5 769.5,567.5 770.5,567.1 771.5,567.5 772.5,568.4 773.5,568.7 774.5,569.1 775.5,570.5 776.5,570.8 777.5,570.8 778.5,571.1 779.5,571.4 780.5,571.5 781.5,571.2 782.5,570.9 783.5,571.2 784.5,571.8 785.5,571.1 786.5,571.5 787.5,571.2 788.5,571.2 789.5,571.1 790.5,571.4 791.5,571.1 792.5,571.0 793.5,571.1 794.5,571.1 795.5,571.5 796.5,571.0 797.5,571.0 798.5,571.4 799.5,571.4 800.5,571.7 801.5,571.0 802.5,571.4 803.5,571.4 804.5,571.0 805.5,572.0 806.5,571.2 807.5,571.1 808.5,571.5 809.5,571.1 810.5,571.6 811.5,571.3 812.5,571.1 813.5,571.0 814.5,571.8 815.5,571.3 816.5,571.8 817.5,571.5 818.5,572.0 819.5,571.3 820.5,571.2 821.5,571.2 822.5,571.8 823.5,571.6 824.5,571.3 825.5,571.1 826.5,571.7 827.5,572.0 828.5,571.6 829.5,571.0 830.5,571.0 831.5,571.0 832.5,571.1 833.5,571.0 834.5,571.0 835.5,571.7 836.5,571.9 837.5,571.2 838.5,572.0 839.5,571.5 840.5,571.8 841.5,572.0 842.5,572.0 843.5,571.0 844.5,571.3 845.5,571.6 846.5,572.0 847.5,571.0 848.5,571.3 849.5,571.9 850.5,571.1 851.5,571.4 852.5,571.3 853.5,571.7 854.5,572.0 855.5,571.1 856.5,571.8 857.5,571.8 858.5,571.9 859.5,571.6 860.5,572.0 861.5,571.3 862.5,571.4 863.5,571.2 864.5,571.8 865.5,571.5 866.5,571.2 867.5,571.1 868.5,571.7 869.5,571.6 870.5,571.7 871.5,571.4 872.5,571.5 873.5,571.1 874.5,571.7 875.5,571.0 876.5,571.5 877.5,571.8 878.5,571.7 879.5,571.1 880.5,571.2 881.5,571.9 882.5,571.7 883.5,571.9 884.5,571.9 885.5,571.4 886.5,571.9 887.5,571.8 888.5,571.3 889.5,571.4 890.5,571.0 891.5,571.4 892.5,572.0 893.5,571.1 894.5,571.6 895.5,571.1 896.5,571.0 897.5,571.6 898.5,571.1 899.5,570.9 900.5,570.9 901.5,571.2 902.5,570.8 903.5,569.6 904.5,569.2 905.5,569.2 906.5,567.4 907.5,566.7 908.5,565.6 909.5,565.3 910.5,564.7 911.5,564.9 912.5,565.0 913.5,565.3 914.5,566.3 915.5,567.2 916.5,569.0 917.5,569.1 918.5,569.7 919.5,571.2 920.5,570.7 921.5,571.7 922.5,570.9 923.5,571.4 924.5,571.2 925.5,571.8 926.5,571.6 927.5,571.6 928.5,571.8 929.5,571.9 930.5,571.3 931.5,571.5 932.5,571.3 933.5,570.9 934.5,571.6 935.5,571.2 936.5,571.3 937.5,570.5 938.5,570.6 939.5,570.3 940.5,570.3 941.5,569.2 942.5,569.2 943.5,568.9 944.5,568.1 945.5,568.3 946.5,568.1 947.5,567.4 948.5,567.4 949.5,567.2 950.5,566.7 951.5,566.8 952.5,567.6 953.5,567.1 954.5,567.5 955.5,567.4 956.5,567.9 957.5,568.2 958.5,569.4 959.5,569.6 960.5,570.1 961.5,570.5 962.5,570.4 963.5,570.9 964.5,570.5 965.5,570.4 966.5,570.7 967.5,570.3 968.5,569.8 969.5,568.5 970.5,567.9 971.5,566.5 972.5,566.1 973.5,565.1 974.5,563.7 975.5,564.0 976.5,563.2 977.5,563.5 978.5,564.9 979.5,565.4 980.5,566.7 981.5,567.8 982.5,568.2 983.5,569.8 984.5,569.9 985.5,570.6 986.5,570.8 987.5,571.5 988.5,571.6 989.5,571.2 990.5,571.0 991.5,571.2 992.5,571.3 993.5,570.8 994.5,570.4 995.5,569.9 996.5,567.8 997.5,565.1 998.5,561.4 999.5,558.0 1000.5,555.7 1001.5,556.0 1002.5,558.9 1003.5,562.7 1004.5,566.2 1005.5,568.8 1006.5,570.1 1007.5,571.4 1008.5,571.1 1009.5,571.4 1010.5,571.9 1011.5,571.8 1012.5,571.2 1013.5,571.0 1014.5,571.5 1015.5,570.3 1016.5,570.1 1017.5,570.0 1018.5,569.5 1019.5,568.4 1020.5,567.8 1021.5,567.6 1022.5,568.0 1023.5,567.8 1024.5,568.8 1025.5,569.1 1026.5,569.9 1027.5,569.5 1028.5,570.2 1029.5,570.3 1030.5,571.1 1031.5,571.1 1032.5,570.9 1033.5,571.5 1034.5,571.0 1035.5,571.3 1036.5,571.2 1037.5,571.8 1038.5,571.4 1039.5,571.2 1040.5,571.0 1041.5,571.4 1042.5,571.6 1043.5,571.7 1044.5,572.0 1045.5,571.8 1046.5,571.2 1047.5,571.1 1048.5,571.8 1049.5,571.8 1050.5,571.5 1051.5,571.9 1052.5,571.6 1053.5,571.3 1054.5,571.1 1055.5,571.0 1056.5,571.7 1057.5,571.9 1058.5,571.9 1059.5,571.5 1060.5,571.7 1061.5,572.0 1062.5,571.8 1063.5,571.6 1064.5,571.4 1065.5,571.5 1066.5,571.1 1067.5,571.1 1068.5,571.7 1069.5,572.0 1070.5,571.4 1071.5,570.9 1072.5,570.1 1073.5,568.7 1074.5,566.5 1075.5,562.7 1076.5,559.6 1077.5,556.0 1078.5,555.6 1079.5,557.6 1080.5,560.8 1081.5,564.9 1082.5,568.0 1083.5,570.1 1084.5,570.9 1085.5,570.7 1086.5,571.5 1087.5,571.5 1088.5,571.4 1089.5,571.1 1090.5,571.4 1091.5,571.3 1092.5,570.0 1093.5,569.8 1094.5,568.5 1095.5,567.4 1096.5,566.4 1097.5,565.1 1098.5,563.6 1099.5,562.5 1100.5,563.3 1101.5,563.1 1102.5,564.4 1103.5,566.3 1104.5,567.1 1105.5,568.4 1106.5,570.1 1107.5,570.9 1108.5,570.7 1109.5,571.1 1110.5,571.1 1111.5,571.0 1112.5,571.2 1113.5,572.0 1114.5,571.0 1115.5,571.2 1116.5,571.2 1117.5,571.0 1118.5,571.5 1119.5,571.8 1120.5,571.9 1121.5,571.6 1122.5,571.8 1123.5,571.0 1124.5,571.3 1125.5,572.0 1126.5,571.0 1127.5,571.2 1128.5,571.5 1129.5,571.2 1130.5,571.6 1131.5,571.0 1132.5,571.2 1133.5,572.0 1134.5,571.1 1135.5,571.9 1136.5,571.1 1137.5,572.0 1138.5,571.7 1139.5,571.7 1140.5,571.1 1141.5,571.0 1142.5,571.8 1143.5,571.1 1144.5,571.2 1145.5,571.9 1146.5,571.9 1147.5,571.0 1148.5,572.0 1149.5,571.4 1150.5,570.9 1151.5,569.9 1152.5,568.9 1153.5,567.6 1154.5,564.4 1155.5,562.0 1156.5,560.6 1157.5,560.5 1158.5,562.2 1159.5,565.1 1160.5,566.6 1161.5,568.7 1162.5,570.8 1163.5,571.5 1164.5,571.8 1165.5,571.2 1166.5,571.3 1167.5,572.0 1168.5,571.5 1169.5,571.7 1170.5,571.3 1171.5,571.0 1172.5,571.3 1173.5,571.8 1174.5,571.8 1175.5,571.6 1176.5,571.5 1177.5,571.5 1178.5,571.4 1179.5,571.5 1180.5,571.9 1181.5,571.2 1182.5,571.6 1183.5,572.0 1184.5,571.9 1185.5,571.1 1186.5,572.0 1187.5,571.9 1188.5,571.1 1189.5,571.2 1190.5,571.2 1191.5,571.0 1192.5,572.0 1193.5,571.4 1194.5,571.9 1195.5,571.1 1196.5,570.9 1197.5,571.9 1198.5,571.8 1199.5,572.0 1200.5,571.6 1201.5,571.5 1202.5,571.7 1203.5,570.9 1204.5,571.4 1205.5,571.2 1206.5,570.9 1207.5,571.3 1208.5,570.9 1209.5,571.1 1210.5,570.8 1211.5,570.7 1212.5,570.6 1213.5,570.7 1214.5,571.0 1215.5,570.8 1216.5,570.6 1217.5,570.4 1218.5,569.7 1219.5,570.3 1220.5,569.4 1221.5,569.1 1222.5,569.4 1223.5,569.5 1224.5,569.0 1225.5,569.2 1226.5,568.8 1227.5,569.5 1228.5,569.0 1229.5,569.0 1230.5,569.1 1231.5,569.6 1232.5,569.8 1233.5,569.4 1234.5,569.4 1235.5,569.6 1236.5,569.1 1237.5,569.4 1238.5,569.6 1239.5,569.0 1240.5,567.4 1241.5,567.3 1242.5,565.7 1243.5,565.4 1244.5,564.0 1245.5,563.6 1246.5,564.4 1247.5,565.6 1248.5,566.3 1249.5,568.1 1250.5,569.1 1251.5,569.7 1252.5,570.3 1253.5,570.9 1254.5,571.1 1255.5,571.2 1256.5,571.6 1257.5,571.9 1258.5,571.6 1259.5,571.1 1260.5,571.2 1261.5,571.3 1262.5,571.6 1263.5,571.1 1264.5,571.0 1265.5,571.3 1266.5,571.3 1267.5,571.0 1268.5,571.5 1269.5,572.0 1270.5,571.5 1271.5,571.8 1272.5,571.9 1273.5,571.9 1274.5,572.0 1275.5,571.4 1276.5,571.7 1277.5,571.1 1278.5,571.9 1279.5,571.4 1280.5,571.5 1281.5,571.9 1282.5,571.3 1283.5,571.2 1284.5,571.9 1285.5,571.6 1286.5,571.0 1287.5,571.0 1288.5,571.3 1289.5,571.0 1290.5,571.9 1291.5,571.2 1292.5,571.3 1293.5,571.4 1294.5,571.5 1295.5,571.4 1296.5,571.6 1297.5,571.7 1298.5,571.4 1299.5,571.1 1300.5,572.0 1301.5,571.7 1302.5,571.0 1303.5,571.4 1304.5,571.8 1305.5,572.0 1306.5,571.0 1307.5,571.0 1308.5,571.5 1309.5,571.4 1310.5,571.9 1311.5,571.9 1312.5,571.3 1313.5,571.4 1314.5,571.6 1315.5,571.9 1316.5,571.2 1317.5,571.4 1318.5,571.0 1319.5,571.7 1320.5,571.0 1321.5,572.0 1322.5,571.5 1323.5,571.6 1324.5,571.0 1325.5,571.2 1326.5,571.5 1327.5,571.9 1328.5,571.5 1329.5,571.3 1330.5,572.0 1331.5,571.7 1332.5,571.5 1333.5,571.2 1334.5,571.3 1335.5,571.9 1336.5,571.1 1337.5,571.5 1338.5,571.6 1339.5,571.3 1340.5,571.8 1341.5,572.0 1342.5,571.9 1343.5,571.8 1344.5,571.2 1345.5,571.0 1346.5,571.4 1347.5,571.3 1348.5,571.2 1349.5,571.9 1350.5,571.2 1351.5,571.8 1352.5,571.9 1353.5,570.8 1354.5,571.0 1355.5,568.8 1356.5,565.6 1357.5,560.7 1358.5,554.5 1359.5,549.5 1360.5,546.5 1361.5,548.0 1362.5,552.5 1363.5,557.6 1364.5,563.6 1365.5,567.5 1366.5,569.5 1367.5,570.6 1368.5,571.1 1369.5,571.7 1370.5,571.3 1371.5,571.1 1372.5,571.2 1373.5,571.4 1374.5,571.6 1375.5,571.2 1376.5,571.7 1377.5,571.2 1378.5,571.7 1379.5,571.6 1380.5,571.1 1381.5,571.8 1382.5,571.4 1383.5,571.5 1384.5,571.6 1385.5,571.6 1386.5,571.4 1387.5,571.0 1388.5,571.8 1389.5,571.9 1390.5,571.5 1391.5,571.6 1392.5,571.2 1393.5,571.9 1394.5,571.7 1395.5,571.2 1396.5,571.8 1397.5,572.0 1398.5,571.3 1399.5,572.0 1400.5,571.5 1401.5,571.1 1402.5,571.7 1403.5,571.3 1404.5,571.8 1405.5,571.6 1406.5,571.1 1407.5,571.5 1408.5,571.9 1409.5,571.5 1410.5,571.5 1411.5,571.9 1412.5,571.4 1413.5,571.5 1414.5,571.6 1415.5,571.9 1416.5,571.2 1417.5,571.1 1418.5,571.8 1419.5,571.6 1420.5,571.3 1421.5,571.9 1422.5,571.9 1423.5,571.5 1424.5,572.0 1425.5,571.9 1426.5,571.8 1427.5,571.3 1428.5,571.0 1429.5,571.7 1430.5,571.8 1431.5,571.3 1432.5,571.5 1433.5,571.6 1434.5,571.2 1435.5,571.7 1436.5,571.6 1437.5,571.4 1438.5,571.1 1439.5,571.6 1440.5,571.3 1441.5,571.7 1442.5,571.1 1443.5,571.4 1444.5,571.2 1445.5,571.4 1446.5,571.6 1447.5,571.1 1448.5,571.0 1449.5,571.5 1450.5,571.2 1451.5,571.5 1452.5,571.1 1453.5,571.0 1454.5,571.5 1455.5,571.8 1456.5,571.6 1457.5,571.1 1458.5,570.7 1459.5,570.1 1460.5,570.0 1461.5,569.7 1462.5,570.1 1463.5,568.9 1464.5,569.7 1465.5,569.2 1466.5,569.3 1467.5,569.3 1468.5,570.4 1469.5,569.9 1470.5,570.6 1471.5,570.9 1472.5,570.7 1473.5,570.9 1474.5,571.9 1475.5,571.7 1476.5,571.7 1477.5,571.8 1478.5,570.7 1479.5,571.1 1480.5,570.5 1481.5,569.1 1482.5,568.0 1483.5,567.1 1484.5,564.8 1485.5,563.9 1486.5,562.5 1487.5,563.0 1488.5,563.4 1489.5,564.9 1490.5,566.4 1491.5,568.4 1492.5,569.4 1493.5,569.9 1494.5,570.3 1495.5,569.9 1496.5,570.0 1497.5,568.9 1498.5,568.8 1499.5,568.6 1500.5,568.4 1501.5,568.3 1502.5,568.9 1503.5,570.0 1504.5,570.0 1505.5,571.0 1506.5,571.1 1507.5,571.8 1508.5,571.8 1509.5,571.7 1510.5,571.3 1511.5,571.0 1512.5,571.5 1513.5,571.7 1514.5,571.9 1515.5,571.1 1516.5,571.0 1517.5,571.9 1518.5,571.5 1519.5,571.2 1520.5,571.3 1521.5,570.6 1522.5,570.9 1523.5,570.9 1524.5,570.6 1525.5,570.0 1526.5,569.8 1527.5,570.3 1528.5,570.5 1529.5,569.6 1530.5,569.5 1531.5,569.6 1532.5,570.4 1533.5,570.1 1534.5,570.3 1535.5,571.1 1536.5,570.8 1537.5,570.6 1538.5,571.2 1539.5,570.5 1540.5,570.9 1541.5,571.5 1542.5,571.0 1543.5,570.9 1544.5,571.4 1545.5,571.3 1546.5,572.0 1547.5,571.0 1548.5,571.8 1549.5,571.4 1550.5,571.8 1551.5,571.4 1552.5,571.7 1553.5,571.3 1554.5,571.2 1555.5,571.4 1556.5,571.8 1557.5,571.3 1558.5,571.2 1559.5,571.4 1560.5,571.1 1561.5,571.3 1562.5,571.6 1563.5,571.6 1564.5,571.6 1565.5,571.3 1566.5,571.0 1567.5,571.0 1568.5,571.3 1569.5,571.2 1570.5,571.6 1571.5,571.2 1572.5,571.8 1573.5,571.6 1574.5,571.7 1575.5,571.8 1576.5,571.5 1577.5,571.4 1578.5,571.3 1579.5,571.0 1580.5,571.8 1581.5,571.5 1582.5,571.1 1583.5,572.0 1584.5,571.6 1585.5,571.6 1586.5,571.4 1587.5,571.1 1588.5,572.0 1589.5,571.1 1590.5,571.4 1591.5,572.0 1592.5,571.1 1593.5,571.5 1594.5,571.5 1595.5,571.2 1596.5,572.0 1597.5,571.4 1598.5,571.0 1599.5,571.5 1600.5,571.0 1601.5,571.7 1602.5,571.9 1603.5,571.9 1604.5,571.0 1605.5,571.7 1606.5,571.3 1607.5,571.5 1608.5,571.3 1609.5,571.3 1610.5,571.1 1613.0,571.3 1616.0,569.0 1619.0,562.0 1621.5,554.0 1623.5,553.3 1630.0,553.3"/>
<polyline class="ln" stroke-width="10" stroke="#f00" shape-rendering="geometricPrecision" points="158.0,571.2 163.5,571.2 164.5,571.5 165.5,571.4 166.5,571.6 167.5,571.6 168.5,571.0 169.5,571.0 170.5,571.9 171.5,571.2 172.5,571.2 173.5,572.0 174.5,571.5 175.5,571.9 176.5,571.5 177.5,571.7 178.5,571.1 179.5,571.6 180.5,571.9 181.5,571.5 182.5,571.8 183.5,571.7 184.5,571.0 185.5,571.8 186.5,571.6 187.5,571.3 188.5,571.0 189.5,571.9 190.5,571.5 191.5,571.7 192.5,571.9 193.5,571.7 194.5,572.0 195.5,571.4 196.5,571.8 197.5,571.4 198.5,572.0 199.5,571.9 200.5,571.1 201.5,571.1 202.5,571.2 203.5,572.0 204.5,571.4 205.5,571.6 206.5,571.3 207.5,571.5 208.5,571.4 209.5,571.3 210.5,571.6 211.5,571.6 212.5,571.9 213.5,571.7 214.5,572.0 215.5,571.9 216.5,572.0 217.5,571.7 218.5,571.1 219.5,571.9 220.5,572.0 221.5,571.9 222.5,571.6 223.5,571.7 224.5,571.2 225.5,571.9 226.5,571.6 227.5,571.3 228.5,571.0 229.5,571.9 230.5,572.0 231.5,571.0 232.5,571.8 233.5,571.4 234.5,571.1 235.5,571.3 236.5,571.8 237.5,571.9 238.5,571.0 239.5,571.6 240.5,571.0 241.5,571.7 242.5,571.3 243.5,571.9 244.5,572.0 245.5,571.5 246.5,572.0 247.5,571.3 248.5,571.0 249.5,571.6 250.5,571.0 251.5,571.2 252.5,571.4 253.5,571.6 254.5,571.1 255.5,571.0 256.5,571.9 257.5,571.3 258.5,572.0 259.5,571.9 260.5,571.4 261.5,571.5 262.5,571.5 263.5,571.7 264.5,571.6 265.5,571.6 266.5,571.6 267.5,572.0 268.5,571.5 269.5,571.4 270.5,571.7 271.5,571.2 272.5,571.3 273.5,572.0 274.5,571.5 275.5,571.6 276.5,571.0 277.5,571.4 278.5,571.6 279.5,571.0 280.5,571.6 281.5,571.6 282.5,571.0 283.5,571.6 284.5,571.5 285.5,571.7 286.5,571.3 287.5,571.7 288.5,571.8 289.5,571.0 290.5,571.0 291.5,571.7 292.5,572.0 293.5,571.2 294.5,571.5 295.5,571.6 296.5,571.3 297.5,571.4 298.5,571.3 299.5,571.4 300.5,571.6 301.5,571.3 302.5,571.4 303.5,571.8 304.5,571.0 305.5,571.6 306.5,571.8 307.5,571.3 308.5,571.2 309.5,571.8 310.5,571.2 311.5,571.2 312.5,571.4 313.5,571.7 314.5,571.1 315.5,571.3 316.5,571.3 317.5,571.9 318.5,571.4 319.5,571.9 320.5,571.1 321.5,571.3 322.5,571.7 323.5,571.9 324.5,571.4 325.5,571.2 326.5,571.1 327.5,571.5 328.5,571.2 329.5,571.8 330.5,571.9 331.5,571.2 332.5,571.3 333.5,571.8 334.5,571.7 335.5,571.8 336.5,571.3 337.5,571.1 338.5,571.3 339.5,571.8 340.5,571.2 341.5,571.3 342.5,571.4 343.5,571.4 344.5,571.4 345.5,572.0 346.5,571.1 347.5,571.0 348.5,572.0 349.5,571.9 350.5,572.0 351.5,571.4 352.5,572.0 353.5,572.0 354.5,571.2 355.5,571.8 356.5,571.9 357.5,571.7 358.5,571.5 359.5,571.3 360.5,571.3 361.5,571.2 362.5,571.0 363.5,571.6 364.5,571.3 365.5,571.8 366.5,571.0 367.5,571.9 368.5,571.7 369.5,572.0 370.5,571.9 371.5,571.9 372.5,571.6 373.5,571.0 374.5,571.8 375.5,571.1 376.5,571.3 377.5,571.7 378.5,571.5 379.5,571.4 380.5,572.0 381.5,571.6 382.5,571.3 383.5,571.2 384.5,571.9 385.5,571.5 386.5,571.8 387.5,571.3 388.5,571.2 389.5,571.5 390.5,571.8 391.5,571.1 392.5,571.8 393.5,572.0 394.5,571.8 395.5,571.9 396.5,571.0 397.5,571.6 398.5,571.9 399.5,571.0 400.5,571.2 401.5,571.2 402.5,571.5 403.5,571.4 404.5,571.5 405.5,571.8 406.5,571.0 407.5,571.0 408.5,571.1 409.5,571.1 410.5,571.0 411.5,572.0 412.5,571.9 413.5,571.0 414.5,571.5 415.5,571.3 416.5,571.3 417.5,571.3 418.5,571.7 419.5,571.6 420.5,571.3 421.5,571.2 422.5,571.3 423.5,571.1 424.5,571.6 425.5,571.7 426.5,571.4 427.5,571.0 428.5,571.1 429.5,571.4 430.5,571.6 431.5,571.8 432.5,571.4 433.5,571.8 434.5,571.6 435.5,571.4 436.5,571.4 437.5,571.5 438.5,571.7 439.5,571.4 440.5,571.7 441.5,571.5 442.5,571.2 443.5,571.5 444.5,571.7 445.5,571.0 446.5,571.4 447.5,571.4 448.5,571.9 449.5,572.0 450.5,571.4 451.5,571.9 452.5,571.8 453.5,571.2 454.5,571.5 455.5,571.1 456.5,571.8 457.5,571.7 458.5,571.9 459.5,571.8 460.5,571.7 461.5,571.8 462.5,571.6 463.5,571.1 464.5,571.6 465.5,571.0 466.5,571.1 467.5,571.8 468.5,571.0 469.5,571.1 470.5,571.1 471.5,571.9 472.5,571.1 473.5,571.0 474.5,571.9 475.5,571.1 476.5,571.9 477.5,571.7 478.5,571.9 479.5,572.0 480.5,571.6 481.5,571.8 482.5,570.9 483.5,571.6 484.5,571.3 485.5,571.4 486.5,570.6 487.5,571.1 488.5,571.1 489.5,569.8 490.5,569.7 491.5,569.6 492.5,569.5 493.5,568.4 494.5,567.9 495.5,567.6 496.5,567.7 497.5,567.7 498.5,567.1 499.5,567.1 500.5,567.3 501.5,567.4 502.5,567.8 503.5,567.8 504.5,568.7 505.5,569.7 506.5,569.5 507.5,570.2 508.5,569.9 509.5,570.8 510.5,571.1 511.5,571.2 512.5,571.2 513.5,571.3 514.5,571.5 515.5,571.8 516.5,571.1 517.5,571.0 518.5,571.8 519.5,571.9 520.5,571.5 521.5,571.4 522.5,571.7 523.5,571.2 524.5,571.2 525.5,571.2 526.5,571.6 527.5,571.3 528.5,571.2 529.5,571.7 530.5,572.0 531.5,571.3 532.5,571.7 533.5,571.4 534.5,571.9 535.5,571.6 536.5,571.2 537.5,571.2 538.5,571.0 539.5,571.5 540.5,571.4 541.5,571.1 542.5,571.3 543.5,571.2 544.5,571.4 545.5,570.3 546.5,570.5 547.5,568.7 548.5,566.9 549.5,564.1 550.5,561.4 551.5,557.9 552.5,554.5 553.5,552.3 554.5,551.7 555.5,552.7 556.5,554.4 557.5,557.8 558.5,561.5 559.5,564.1 560.5,566.5 561.5,568.4 562.5,570.2 563.5,570.9 564.5,571.6 565.5,571.7 566.5,571.2 567.5,571.1 568.5,571.2 569.5,571.2 570.5,571.7 571.5,571.9 572.5,571.9 573.5,571.2 574.5,571.9 575.5,571.3 576.5,571.3 577.5,571.4 578.5,569.8 579.5,567.8 580.5,564.5 581.5,557.0 582.5,547.9 583.5,539.0 584.5,533.2 585.5,532.5 586.5,538.7 587.5,548.0 588.5,557.2 589.5,563.8 590.5,568.4 591.5,570.8 592.5,571.0 593.5,571.4 594.5,571.1 595.5,571.2 596.5,571.7 597.5,571.1 598.5,571.9 599.5,571.9 600.5,571.1 601.5,572.0 602.5,571.4 603.5,571.8 604.5,571.8 605.5,571.3 606.5,571.7 607.5,571.7 608.5,571.8 609.5,571.2 610.5,571.8 611.5,572.0 612.5,571.7 613.5,571.5 614.5,571.1 615.5,571.5 616.5,571.3 617.5,571.7 618.5,571.7 619.5,571.5 620.5,571.1 621.5,571.5 622.5,571.5 623.5,570.9 624.5,571.7 625.5,571.3 626.5,570.7 627.5,571.5 628.5,570.5 629.5,570.6 630.5,570.9 631.5,570.6 632.5,570.4 633.5,570.4 634.5,570.1 635.5,569.8 636.5,569.6 637.5,569.4 638.5,570.0 639.5,570.0 640.5,569.8 641.5,570.0 642.5,569.6 643.5,569.5 644.5,569.7 645.5,570.3 646.5,569.5 647.5,570.1 648.5,569.9 649.5,570.5 650.5,570.1 651.5,570.1 652.5,570.2 653.5,570.4 654.5,570.6 655.5,570.1 656.5,570.6 657.5,569.8 658.5,569.9 659.5,569.6 660.5,569.5 661.5,570.2 662.5,570.1 663.5,569.4 664.5,569.3 665.5,569.5 666.5,569.8 667.5,569.9 668.5,569.8 669.5,569.6 670.5,569.1 671.5,569.4 672.5,569.2 673.5,569.6 674.5,569.7 675.5,569.4 676.5,569.5 677.5,570.2 678.5,569.4 679.5,570.4 680.5,570.6 681.5,570.7 682.5,570.2 683.5,570.5 684.5,570.6 685.5,570.8 686.5,571.2 687.5,571.0 688.5,570.6 689.5,571.3 690.5,570.9 691.5,571.0 692.5,571.1 693.5,570.1 694.5,570.7 695.5,570.2 696.5,569.5 697.5,568.9 698.5,568.1 699.5,567.0 700.5,566.6 701.5,565.5 702.5,565.6 703.5,565.6 704.5,565.6 705.5,566.1 706.5,567.2 707.5,567.9 708.5,567.8 709.5,569.3 710.5,569.8 711.5,569.8 712.5,570.5 713.5,570.7 714.5,570.7 715.5,571.4 716.5,571.9 717.5,571.3 718.5,571.9 719.5,571.7 720.5,571.1 721.5,571.9 722.0,570.0 726.0,568.0 729.0,562.0 730.6,552.0 732.5,521.0 735.2,455.0 737.2,366.0 737.8,327.5 738.4,366.0 739.5,455.0 739.9,521.0 741.0,552.0 742.5,562.0 745.0,567.5 749.0,570.0 749.5,571.6 750.5,572.0 751.5,571.7 752.5,571.8 753.5,571.3 754.5,571.8 755.5,572.0 756.5,571.9 757.5,571.4 758.5,571.7 759.5,571.4 760.5,570.9 761.5,570.7 762.5,570.5 763.5,570.3 764.5,569.7 765.5,569.5 766.5,569.0 767.5,568.2 768.5,567.5 769.5,567.5 770.5,567.1 771.5,567.5 772.5,568.4 773.5,568.7 774.5,569.1 775.5,570.5 776.5,570.8 777.5,570.8 778.5,571.1 779.5,571.4 780.5,571.5 781.5,571.2 782.5,570.9 783.5,571.2 784.5,571.8 785.5,571.1 786.5,571.5 787.5,571.2 788.5,571.2 789.5,571.1 790.5,571.4 791.5,571.1 792.5,571.0 793.5,571.1 794.5,571.1 795.5,571.5 796.5,571.0 797.5,571.0 798.5,571.4 799.5,571.4 800.5,571.7 801.5,571.0 802.5,571.4 803.5,571.4 804.5,571.0 805.5,572.0 806.5,571.2 807.5,571.1 808.5,571.5 809.5,571.1 810.5,571.6 811.5,571.3 812.5,571.1 813.5,571.0 814.5,571.8 815.5,571.3 816.5,571.8 817.5,571.5 818.5,572.0 819.5,571.3 820.5,571.2 821.5,571.2 822.5,571.8 823.5,571.6 824.5,571.3 825.5,571.1 826.5,571.7 827.5,572.0 828.5,571.6 829.5,571.0 830.5,571.0 831.5,571.0 832.5,571.1 833.5,571.0 834.5,571.0 835.5,571.7 836.5,571.9 837.5,571.2 838.5,572.0 839.5,571.5 840.5,571.8 841.5,572.0 842.5,572.0 843.5,571.0 844.5,571.3 845.5,571.6 846.5,572.0 847.5,571.0 848.5,571.3 849.5,571.9 850.5,571.1 851.5,571.4 852.5,571.3 853.5,571.7 854.5,572.0 855.5,571.1 856.5,571.8 857.5,571.8 858.5,571.9 859.5,571.6 860.5,572.0 861.5,571.3 862.5,571.4 863.5,571.2 864.5,571.8 865.5,571.5 866.5,571.2 867.5,571.1 868.5,571.7 869.5,571.6 870.5,571.7 871.5,571.4 872.5,571.5 873.5,571.1 874.5,571.7 875.5,571.0 876.5,571.5 877.5,571.8 878.5,571.7 879.5,571.1 880.5,571.2 881.5,571.9 882.5,571.7 883.5,571.9 884.5,571.9 885.5,571.4 886.5,571.9 887.5,571.8 888.5,571.3 889.5,571.4 890.5,571.0 891.5,571.4 892.5,572.0 893.5,571.1 894.5,571.6 895.5,571.1 896.5,571.0 897.5,571.6 898.5,571.1 899.5,570.9 900.5,570.9 901.5,571.2 902.5,570.8 903.5,569.6 904.5,569.2 905.5,569.2 906.5,567.4 907.5,566.7 908.5,565.6 909.5,565.3 910.5,564.7 911.5,564.9 912.5,565.0 913.5,565.3 914.5,566.3 915.5,567.2 916.5,569.0 917.5,569.1 918.5,569.7 919.5,571.2 920.5,570.7 921.5,571.7 922.5,570.9 923.5,571.4 924.5,571.2 925.5,571.8 926.5,571.6 927.5,571.6 928.5,571.8 929.5,571.9 930.5,571.3 931.5,571.5 932.5,571.3 933.5,570.9 934.5,571.6 935.5,571.2 936.5,571.3 937.5,570.5 938.5,570.6 939.5,570.3 940.5,570.3 941.5,569.2 942.5,569.2 943.5,568.9 944.5,568.1 945.5,568.3 946.5,568.1 947.5,567.4 948.5,567.4 949.5,567.2 950.5,566.7 951.5,566.8 952.5,567.6 953.5,567.1 954.5,567.5 955.5,567.4 956.5,567.9 957.5,568.2 958.5,569.4 959.5,569.6 960.5,570.1 961.5,570.5 962.5,570.4 963.5,570.9 964.5,570.5 965.5,570.4 966.5,570.7 967.5,570.3 968.5,569.8 969.5,568.5 970.5,567.9 971.5,566.5 972.5,566.1 973.5,565.1 974.5,563.7 975.5,564.0 976.5,563.2 977.5,563.5 978.5,564.9 979.5,565.4 980.5,566.7 981.5,567.8 982.5,568.2 983.5,569.8 984.5,569.9 985.5,570.6 986.5,570.8 987.5,571.5 988.5,571.6 989.5,571.2 990.5,571.0 991.5,571.2 992.5,571.3 993.5,570.8 994.5,570.4 995.5,569.9 996.5,567.8 997.5,565.1 998.5,561.4 999.5,558.0 1000.5,555.7 1001.5,556.0 1002.5,558.9 1003.5,562.7 1004.5,566.2 1005.5,568.8 1006.5,570.1 1007.5,571.4 1008.5,571.1 1009.5,571.4 1010.5,571.9 1011.5,571.8 1012.5,571.2 1013.5,571.0 1014.5,571.5 1015.5,570.3 1016.5,570.1 1017.5,570.0 1018.5,569.5 1019.5,568.4 1020.5,567.8 1021.5,567.6 1022.5,568.0 1023.5,567.8 1024.5,568.8 1025.5,569.1 1026.5,569.9 1027.5,569.5 1028.5,570.2 1029.5,570.3 1030.5,571.1 1031.5,571.1 1032.5,570.9 1033.5,571.5 1034.5,571.0 1035.5,571.3 1036.5,571.2 1037.5,571.8 1038.5,571.4 1039.5,571.2 1040.5,571.0 1041.5,571.4 1042.5,571.6 1043.5,571.7 1044.5,572.0 1045.5,571.8 1046.5,571.2 1047.5,571.1 1048.5,571.8 1049.5,571.8 1050.5,571.5 1051.5,571.9 1052.5,571.6 1053.5,571.3 1054.5,571.1 1055.5,571.0 1056.5,571.7 1057.5,571.9 1058.5,571.9 1059.5,571.5 1060.5,571.7 1061.5,572.0 1062.5,571.8 1063.5,571.6 1064.5,571.4 1065.5,571.5 1066.5,571.1 1067.5,571.1 1068.5,571.7 1069.5,572.0 1070.5,571.4 1071.5,570.9 1072.5,570.1 1073.5,568.7 1074.5,566.5 1075.5,562.7 1076.5,559.6 1077.5,556.0 1078.5,555.6 1079.5,557.6 1080.5,560.8 1081.5,564.9 1082.5,568.0 1083.5,570.1 1084.5,570.9 1085.5,570.7 1086.5,571.5 1087.5,571.5 1088.5,571.4 1089.5,571.1 1090.5,571.4 1091.5,571.3 1092.5,570.0 1093.5,569.8 1094.5,568.5 1095.5,567.4 1096.5,566.4 1097.5,565.1 1098.5,563.6 1099.5,562.5 1100.5,563.3 1101.5,563.1 1102.5,564.4 1103.5,566.3 1104.5,567.1 1105.5,568.4 1106.5,570.1 1107.5,570.9 1108.5,570.7 1109.5,571.1 1110.5,571.1 1111.5,571.0 1112.5,571.2 1113.5,572.0 1114.5,571.0 1115.5,571.2 1116.5,571.2 1117.5,571.0 1118.5,571.5 1119.5,571.8 1120.5,571.9 1121.5,571.6 1122.5,571.8 1123.5,571.0 1124.5,571.3 1125.5,572.0 1126.5,571.0 1127.5,571.2 1128.5,571.5 1129.5,571.2 1130.5,571.6 1131.5,571.0 1132.5,571.2 1133.5,572.0 1134.5,571.1 1135.5,571.9 1136.5,571.1 1137.5,572.0 1138.5,571.7 1139.5,571.7 1140.5,571.1 1141.5,571.0 1142.5,571.8 1143.5,571.1 1144.5,571.2 1145.5,571.9 1146.5,571.9 1147.5,571.0 1148.5,572.0 1149.5,571.4 1150.5,570.9 1151.5,569.9 1152.5,568.9 1153.5,567.6 1154.5,564.4 1155.5,562.0 1156.5,560.6 1157.5,560.5 1158.5,562.2 1159.5,565.1 1160.5,566.6 1161.5,568.7 1162.5,570.8 1163.5,571.5 1164.5,571.8 1165.5,571.2 1166.5,571.3 1167.5,572.0 1168.5,571.5 1169.5,571.7 1170.5,571.3 1171.5,571.0 1172.5,571.3 1173.5,571.8 1174.5,571.8 1175.5,571.6 1176.5,571.5 1177.5,571.5 1178.5,571.4 1179.5,571.5 1180.5,571.9 1181.5,571.2 1182.5,571.6 1183.5,572.0 1184.5,571.9 1185.5,571.1 1186.5,572.0 1187.5,571.9 1188.5,571.1 1189.5,571.2 1190.5,571.2 1191.5,571.0 1192.5,572.0 1193.5,571.4 1194.5,571.9 1195.5,571.1 1196.5,570.9 1197.5,571.9 1198.5,571.8 1199.5,572.0 1200.5,571.6 1201.5,571.5 1202.5,571.7 1203.5,570.9 1204.5,571.4 1205.5,571.2 1206.5,570.9 1207.5,571.3 1208.5,570.9 1209.5,571.1 1210.5,570.8 1211.5,570.7 1212.5,570.6 1213.5,570.7 1214.5,571.0 1215.5,570.8 1216.5,570.6 1217.5,570.4 1218.5,569.7 1219.5,570.3 1220.5,569.4 1221.5,569.1 1222.5,569.4 1223.5,569.5 1224.5,569.0 1225.5,569.2 1226.5,568.8 1227.5,569.5 1228.5,569.0 1229.5,569.0 1230.5,569.1 1231.5,569.6 1232.5,569.8 1233.5,569.4 1234.5,569.4 1235.5,569.6 1236.5,569.1 1237.5,569.4 1238.5,569.6 1239.5,569.0 1240.5,567.4 1241.5,567.3 1242.5,565.7 1243.5,565.4 1244.5,564.0 1245.5,563.6 1246.5,564.4 1247.5,565.6 1248.5,566.3 1249.5,568.1 1250.5,569.1 1251.5,569.7 1252.5,570.3 1253.5,570.9 1254.5,571.1 1255.5,571.2 1256.5,571.6 1257.5,571.9 1258.5,571.6 1259.5,571.1 1260.5,571.2 1261.5,571.3 1262.5,571.6 1263.5,571.1 1264.5,571.0 1265.5,571.3 1266.5,571.3 1267.5,571.0 1268.5,571.5 1269.5,572.0 1270.5,571.5 1271.5,571.8 1272.5,571.9 1273.5,571.9 1274.5,572.0 1275.5,571.4 1276.5,571.7 1277.5,571.1 1278.5,571.9 1279.5,571.4 1280.5,571.5 1281.5,571.9 1282.5,571.3 1283.5,571.2 1284.5,571.9 1285.5,571.6 1286.5,571.0 1287.5,571.0 1288.5,571.3 1289.5,571.0 1290.5,571.9 1291.5,571.2 1292.5,571.3 1293.5,571.4 1294.5,571.5 1295.5,571.4 1296.5,571.6 1297.5,571.7 1298.5,571.4 1299.5,571.1 1300.5,572.0 1301.5,571.7 1302.5,571.0 1303.5,571.4 1304.5,571.8 1305.5,572.0 1306.5,571.0 1307.5,571.0 1308.5,571.5 1309.5,571.4 1310.5,571.9 1311.5,571.9 1312.5,571.3 1313.5,571.4 1314.5,571.6 1315.5,571.9 1316.5,571.2 1317.5,571.4 1318.5,571.0 1319.5,571.7 1320.5,571.0 1321.5,572.0 1322.5,571.5 1323.5,571.6 1324.5,571.0 1325.5,571.2 1326.5,571.5 1327.5,571.9 1328.5,571.5 1329.5,571.3 1330.5,572.0 1331.5,571.7 1332.5,571.5 1333.5,571.2 1334.5,571.3 1335.5,571.9 1336.5,571.1 1337.5,571.5 1338.5,571.6 1339.5,571.3 1340.5,571.8 1341.5,572.0 1342.5,571.9 1343.5,571.8 1344.5,571.2 1345.5,571.0 1346.5,571.4 1347.5,571.3 1348.5,571.2 1349.5,571.9 1350.5,571.2 1351.5,571.8 1352.5,571.9 1353.5,570.8 1354.5,571.0 1355.5,568.8 1356.5,565.6 1357.5,560.7 1358.5,554.5 1359.5,549.5 1360.5,546.5 1361.5,548.0 1362.5,552.5 1363.5,557.6 1364.5,563.6 1365.5,567.5 1366.5,569.5 1367.5,570.6 1368.5,571.1 1369.5,571.7 1370.5,571.3 1371.5,571.1 1372.5,571.2 1373.5,571.4 1374.5,571.6 1375.5,571.2 1376.5,571.7 1377.5,571.2 1378.5,571.7 1379.5,571.6 1380.5,571.1 1381.5,571.8 1382.5,571.4 1383.5,571.5 1384.5,571.6 1385.5,571.6 1386.5,571.4 1387.5,571.0 1388.5,571.8 1389.5,571.9 1390.5,571.5 1391.5,571.6 1392.5,571.2 1393.5,571.9 1394.5,571.7 1395.5,571.2 1396.5,571.8 1397.5,572.0 1398.5,571.3 1399.5,572.0 1400.5,571.5 1401.5,571.1 1402.5,571.7 1403.5,571.3 1404.5,571.8 1405.5,571.6 1406.5,571.1 1407.5,571.5 1408.5,571.9 1409.5,571.5 1410.5,571.5 1411.5,571.9 1412.5,571.4 1413.5,571.5 1414.5,571.6 1415.5,571.9 1416.5,571.2 1417.5,571.1 1418.5,571.8 1419.5,571.6 1420.5,571.3 1421.5,571.9 1422.5,571.9 1423.5,571.5 1424.5,572.0 1425.5,571.9 1426.5,571.8 1427.5,571.3 1428.5,571.0 1429.5,571.7 1430.5,571.8 1431.5,571.3 1432.5,571.5 1433.5,571.6 1434.5,571.2 1435.5,571.7 1436.5,571.6 1437.5,571.4 1438.5,571.1 1439.5,571.6 1440.5,571.3 1441.5,571.7 1442.5,571.1 1443.5,571.4 1444.5,571.2 1445.5,571.4 1446.5,571.6 1447.5,571.1 1448.5,571.0 1449.5,571.5 1450.5,571.2 1451.5,571.5 1452.5,571.1 1453.5,571.0 1454.5,571.5 1455.5,571.8 1456.5,571.6 1457.5,571.1 1458.5,570.7 1459.5,570.1 1460.5,570.0 1461.5,569.7 1462.5,570.1 1463.5,568.9 1464.5,569.7 1465.5,569.2 1466.5,569.3 1467.5,569.3 1468.5,570.4 1469.5,569.9 1470.5,570.6 1471.5,570.9 1472.5,570.7 1473.5,570.9 1474.5,571.9 1475.5,571.7 1476.5,571.7 1477.5,571.8 1478.5,570.7 1479.5,571.1 1480.5,570.5 1481.5,569.1 1482.5,568.0 1483.5,567.1 1484.5,564.8 1485.5,563.9 1486.5,562.5 1487.5,563.0 1488.5,563.4 1489.5,564.9 1490.5,566.4 1491.5,568.4 1492.5,569.4 1493.5,569.9 1494.5,570.3 1495.5,569.9 1496.5,570.0 1497.5,568.9 1498.5,568.8 1499.5,568.6 1500.5,568.4 1501.5,568.3 1502.5,568.9 1503.5,570.0 1504.5,570.0 1505.5,571.0 1506.5,571.1 1507.5,571.8 1508.5,571.8 1509.5,571.7 1510.5,571.3 1511.5,571.0 1512.5,571.5 1513.5,571.7 1514.5,571.9 1515.5,571.1 1516.5,571.0 1517.5,571.9 1518.5,571.5 1519.5,571.2 1520.5,571.3 1521.5,570.6 1522.5,570.9 1523.5,570.9 1524.5,570.6 1525.5,570.0 1526.5,569.8 1527.5,570.3 1528.5,570.5 1529.5,569.6 1530.5,569.5 1531.5,569.6 1532.5,570.4 1533.5,570.1 1534.5,570.3 1535.5,571.1 1536.5,570.8 1537.5,570.6 1538.5,571.2 1539.5,570.5 1540.5,570.9 1541.5,571.5 1542.5,571.0 1543.5,570.9 1544.5,571.4 1545.5,571.3 1546.5,572.0 1547.5,571.0 1548.5,571.8 1549.5,571.4 1550.5,571.8 1551.5,571.4 1552.5,571.7 1553.5,571.3 1554.5,571.2 1555.5,571.4 1556.5,571.8 1557.5,571.3 1558.5,571.2 1559.5,571.4 1560.5,571.1 1561.5,571.3 1562.5,571.6 1563.5,571.6 1564.5,571.6 1565.5,571.3 1566.5,571.0 1567.5,571.0 1568.5,571.3 1569.5,571.2 1570.5,571.6 1571.5,571.2 1572.5,571.8 1573.5,571.6 1574.5,571.7 1575.5,571.8 1576.5,571.5 1577.5,571.4 1578.5,571.3 1579.5,571.0 1580.5,571.8 1581.5,571.5 1582.5,571.1 1583.5,572.0 1584.5,571.6 1585.5,571.6 1586.5,571.4 1587.5,571.1 1588.5,572.0 1589.5,571.1 1590.5,571.4 1591.5,572.0 1592.5,571.1 1593.5,571.5 1594.5,571.5 1595.5,571.2 1596.5,572.0 1597.5,571.4 1598.5,571.0 1599.5,571.5 1600.5,571.0 1601.5,571.7 1602.5,571.9 1603.5,571.9 1604.5,571.0 1605.5,571.7 1606.5,571.3 1607.5,571.5 1608.5,571.3 1609.5,571.3 1610.5,571.1 1613.0,571.3 1616.0,569.0 1619.0,562.0 1621.5,554.0 1623.5,553.3 1630.0,553.3"/>
</g>
<g id="ticklabels">
<text class="tk" transform="translate(297.2,1226.0) scale(1,1.048)">10</text>
<text class="tk" transform="translate(562.5,1226.0) scale(1,1.048)">20</text>
<text class="tk" transform="translate(827.7,1226.0) scale(1,1.048)">30</text>
<text class="tk" transform="translate(1093.0,1226.0) scale(1,1.048)">40</text>
<text class="tk" transform="translate(1358.3,1226.0) scale(1,1.048)">50</text>
<text class="tk" transform="translate(1623.5,1226.0) scale(1,1.048)">60</text>
</g>
<text class="ax" transform="translate(892.7,1343.0) scale(1,1.048)">2θ/°</text>
<text class="ax" transform="translate(103,574.3) rotate(-90) scale(1.022,1)">Intensity/a.u.</text>
<g id="key">
<text class="leg" transform="translate(189.2,102.7) scale(1,1.048)">Q:Quartz</text>
<text class="leg" transform="translate(189.2,188.5) scale(1,1.048)">K:Kaolinite</text>
<text class="leg" transform="translate(189.2,274.3) scale(1,1.048)">Mu:Muscovite</text>
<text class="leg" transform="translate(189.2,360.1) scale(1,1.048)">M:Mullite</text>
</g>
<g id="legend" shape-rendering="crispEdges">
<line class="ln" stroke-width="13" stroke="#f00" x1="1291.5" y1="102.8" x2="1441.5" y2="102.8"/>
<text class="leg" transform="translate(1458.5,127.0) scale(1,1.048)" style="fill:#f00">CCG</text>
<line class="ln" stroke-width="13" stroke="#000" x1="1291.5" y1="188.8" x2="1441.5" y2="188.8"/>
<text class="leg" transform="translate(1458.5,212.2) scale(1,1.048)">MK</text>
</g>
<g id="peaks">
<text class="pk" transform="translate(724.0,303.7) scale(1,1.048)">Q</text>
<text class="pk" transform="translate(566.0,453.7) scale(1,1.048)">Q</text>
<text class="pk" transform="translate(495.5,499.6) scale(1,1.048)">Mu</text>
<text class="pk" transform="translate(649.5,474.1) scale(1,1.048)">Mu</text>
<text class="pk" transform="translate(663.2,546.9) scale(1,1.048)">K</text>
<text class="pk" transform="translate(937.5,550.0) scale(1,1.048)">M</text>
<text class="pk" transform="translate(980.5,504.3) scale(1,1.048)">Q</text>
<text class="pk" transform="translate(1051.7,503.5) scale(1,1.048)">Q</text>
<text class="pk" transform="translate(1337.5,517.0) scale(1,1.048)">Q</text>
<text class="pk" transform="translate(1463.5,535.8) scale(1,1.048)">Q</text>
</g>
</svg>
</body>
</html>
